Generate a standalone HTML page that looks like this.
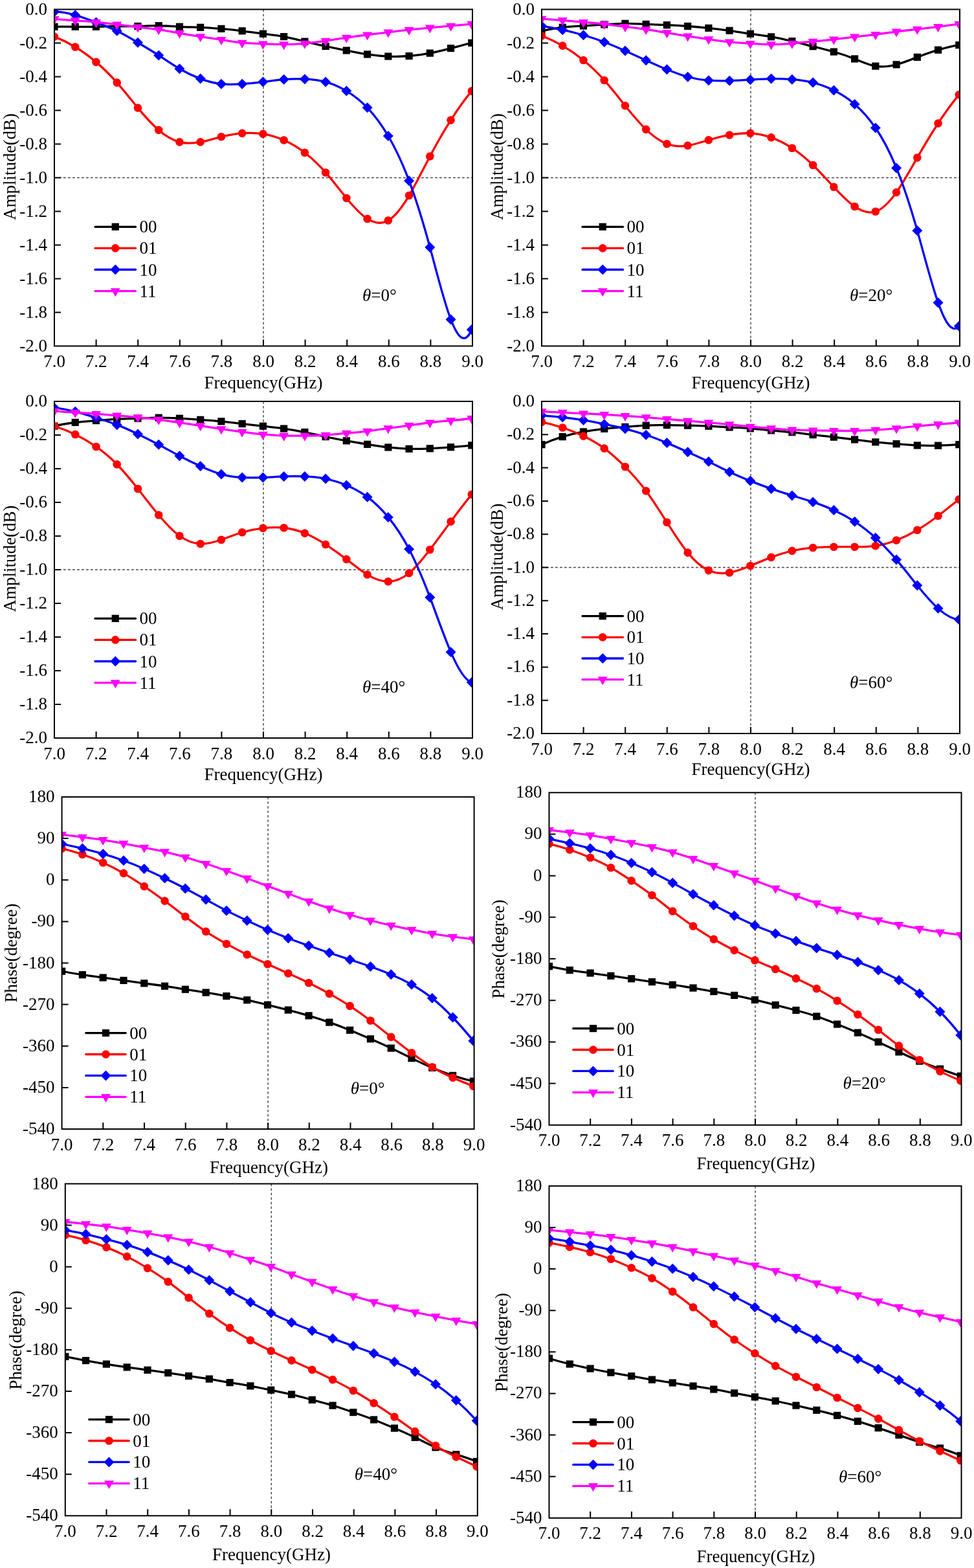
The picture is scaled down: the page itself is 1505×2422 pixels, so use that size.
<!DOCTYPE html><html><head><meta charset="utf-8"><title>Amplitude and phase</title><style>html,body{margin:0;padding:0;background:#fff;}svg{display:block;}</style></head><body><svg width="1505" height="2422" viewBox="0 0 1505 2422">
<rect width="1505" height="2422" fill="#fff"/>
<clipPath id="c0"><rect x="84" y="14.5" width="646" height="520"/></clipPath>
<line x1="407" y1="14.5" x2="407" y2="534.5" stroke="#444" stroke-width="1.4" stroke-dasharray="3.8 3.2" fill="none"/>
<line x1="84" y1="274.5" x2="730" y2="274.5" stroke="#444" stroke-width="1.4" stroke-dasharray="3.8 3.2" fill="none"/>
<g clip-path="url(#c0)">
<path d="M84 41.28C94.75 41.08 105.49 41.18 116.24 41.28C126.99 41.38 137.73 41.48 148.48 41.28C159.23 41.08 169.97 40.6 180.72 40.5C191.47 40.4 202.21 40.7 212.96 40.5C223.71 40.3 234.45 39.6 245.2 39.72C255.95 39.84 266.69 40.76 277.44 41.28C288.19 41.8 298.93 41.9 309.68 42.32C320.43 42.74 331.17 43.49 341.92 44.4C352.67 45.31 363.41 46.4 374.16 47.78C384.91 49.16 395.65 50.83 406.4 52.2C417.15 53.57 427.89 54.63 438.64 56.62C449.39 58.61 460.13 61.51 470.88 64.16C481.63 66.81 492.37 69.19 503.12 71.44C513.87 73.69 524.61 75.79 535.36 77.94C546.11 80.09 556.85 82.3 567.6 83.92C578.35 85.54 589.09 86.59 599.84 87.04C610.59 87.49 621.33 87.35 632.08 86.52C642.83 85.69 653.57 84.19 664.32 82.1C675.07 80.01 685.81 77.35 696.56 74.56C707.31 71.77 718.05 68.85 728.8 66.24" stroke="#000000" stroke-width="3.3" fill="none" stroke-linejoin="round"/>
<rect x="78.4" y="35.68" width="11.2" height="11.2" fill="#000000"/>
<rect x="110.64" y="35.68" width="11.2" height="11.2" fill="#000000"/>
<rect x="142.88" y="35.68" width="11.2" height="11.2" fill="#000000"/>
<rect x="175.12" y="34.9" width="11.2" height="11.2" fill="#000000"/>
<rect x="207.36" y="34.9" width="11.2" height="11.2" fill="#000000"/>
<rect x="239.6" y="34.12" width="11.2" height="11.2" fill="#000000"/>
<rect x="271.84" y="35.68" width="11.2" height="11.2" fill="#000000"/>
<rect x="304.08" y="36.72" width="11.2" height="11.2" fill="#000000"/>
<rect x="336.32" y="38.8" width="11.2" height="11.2" fill="#000000"/>
<rect x="368.56" y="42.18" width="11.2" height="11.2" fill="#000000"/>
<rect x="400.8" y="46.6" width="11.2" height="11.2" fill="#000000"/>
<rect x="433.04" y="51.02" width="11.2" height="11.2" fill="#000000"/>
<rect x="465.28" y="58.56" width="11.2" height="11.2" fill="#000000"/>
<rect x="497.52" y="65.84" width="11.2" height="11.2" fill="#000000"/>
<rect x="529.76" y="72.34" width="11.2" height="11.2" fill="#000000"/>
<rect x="562" y="78.32" width="11.2" height="11.2" fill="#000000"/>
<rect x="594.24" y="81.44" width="11.2" height="11.2" fill="#000000"/>
<rect x="626.48" y="80.92" width="11.2" height="11.2" fill="#000000"/>
<rect x="658.72" y="76.5" width="11.2" height="11.2" fill="#000000"/>
<rect x="690.96" y="68.96" width="11.2" height="11.2" fill="#000000"/>
<rect x="723.2" y="60.64" width="11.2" height="11.2" fill="#000000"/>
<path d="M84 56.62C94.75 60.71 105.49 65.96 116.24 72.48C126.99 79 137.73 86.77 148.48 95.88C159.23 104.99 169.97 115.44 180.72 127.6C191.47 139.76 202.21 153.62 212.96 166.6C223.71 179.58 234.45 191.67 245.2 200.92C255.95 210.17 266.69 216.56 277.44 219.38C288.19 222.2 298.93 221.44 309.68 219.38C320.43 217.32 331.17 213.97 341.92 211.32C352.67 208.67 363.41 206.73 374.16 205.86C384.91 204.99 395.65 205.2 406.4 206.9C417.15 208.6 427.89 211.79 438.64 216.52C449.39 221.25 460.13 227.52 470.88 235.76C481.63 244 492.37 254.22 503.12 266.44C513.87 278.66 524.61 292.87 535.36 305.96C546.11 319.05 556.85 331.03 567.6 337.94C578.35 344.85 589.09 346.71 599.84 340.54C610.59 334.37 621.33 320.19 632.08 302.06C642.83 283.93 653.57 261.85 664.32 241.48C675.07 221.11 685.81 202.43 696.56 185.58C707.31 168.73 718.05 153.69 728.8 140.6" stroke="#ff0000" stroke-width="3.3" fill="none" stroke-linejoin="round"/>
<circle cx="84" cy="56.62" r="6.3" fill="#ff0000"/>
<circle cx="116.24" cy="72.48" r="6.3" fill="#ff0000"/>
<circle cx="148.48" cy="95.88" r="6.3" fill="#ff0000"/>
<circle cx="180.72" cy="127.6" r="6.3" fill="#ff0000"/>
<circle cx="212.96" cy="166.6" r="6.3" fill="#ff0000"/>
<circle cx="245.2" cy="200.92" r="6.3" fill="#ff0000"/>
<circle cx="277.44" cy="219.38" r="6.3" fill="#ff0000"/>
<circle cx="309.68" cy="219.38" r="6.3" fill="#ff0000"/>
<circle cx="341.92" cy="211.32" r="6.3" fill="#ff0000"/>
<circle cx="374.16" cy="205.86" r="6.3" fill="#ff0000"/>
<circle cx="406.4" cy="206.9" r="6.3" fill="#ff0000"/>
<circle cx="438.64" cy="216.52" r="6.3" fill="#ff0000"/>
<circle cx="470.88" cy="235.76" r="6.3" fill="#ff0000"/>
<circle cx="503.12" cy="266.44" r="6.3" fill="#ff0000"/>
<circle cx="535.36" cy="305.96" r="6.3" fill="#ff0000"/>
<circle cx="567.6" cy="337.94" r="6.3" fill="#ff0000"/>
<circle cx="599.84" cy="340.54" r="6.3" fill="#ff0000"/>
<circle cx="632.08" cy="302.06" r="6.3" fill="#ff0000"/>
<circle cx="664.32" cy="241.48" r="6.3" fill="#ff0000"/>
<circle cx="696.56" cy="185.58" r="6.3" fill="#ff0000"/>
<circle cx="728.8" cy="140.6" r="6.3" fill="#ff0000"/>
<path d="M84 18.14C94.75 18.2 105.49 20.27 116.24 23.34C126.99 26.41 137.73 30.48 148.48 34.52C159.23 38.56 169.97 42.59 180.72 47.78C191.47 52.97 202.21 59.34 212.96 65.72C223.71 72.1 234.45 78.51 245.2 85.48C255.95 92.45 266.69 99.98 277.44 106.28C288.19 112.58 298.93 117.65 309.68 121.62C320.43 125.59 331.17 128.47 341.92 129.68C352.67 130.89 363.41 130.43 374.16 129.68C384.91 128.93 395.65 127.91 406.4 126.56C417.15 125.21 427.89 123.55 438.64 122.66C449.39 121.77 460.13 121.67 470.88 122.14C481.63 122.61 492.37 123.67 503.12 126.56C513.87 129.45 524.61 134.17 535.36 140.6C546.11 147.03 556.85 155.16 567.6 166.34C578.35 177.52 589.09 191.74 599.84 210.02C610.59 228.3 621.33 250.63 632.08 279.18C642.83 307.73 653.57 342.48 664.32 381.88C675.07 421.28 685.81 465.32 696.56 493.42C707.31 521.52 718.05 533.67 728.8 509.28" stroke="#0000ff" stroke-width="3.3" fill="none" stroke-linejoin="round"/>
<path d="M84 10.14L92 18.14L84 26.14L76 18.14Z" fill="#0000ff"/>
<path d="M116.24 15.34L124.24 23.34L116.24 31.34L108.24 23.34Z" fill="#0000ff"/>
<path d="M148.48 26.52L156.48 34.52L148.48 42.52L140.48 34.52Z" fill="#0000ff"/>
<path d="M180.72 39.78L188.72 47.78L180.72 55.78L172.72 47.78Z" fill="#0000ff"/>
<path d="M212.96 57.72L220.96 65.72L212.96 73.72L204.96 65.72Z" fill="#0000ff"/>
<path d="M245.2 77.48L253.2 85.48L245.2 93.48L237.2 85.48Z" fill="#0000ff"/>
<path d="M277.44 98.28L285.44 106.28L277.44 114.28L269.44 106.28Z" fill="#0000ff"/>
<path d="M309.68 113.62L317.68 121.62L309.68 129.62L301.68 121.62Z" fill="#0000ff"/>
<path d="M341.92 121.68L349.92 129.68L341.92 137.68L333.92 129.68Z" fill="#0000ff"/>
<path d="M374.16 121.68L382.16 129.68L374.16 137.68L366.16 129.68Z" fill="#0000ff"/>
<path d="M406.4 118.56L414.4 126.56L406.4 134.56L398.4 126.56Z" fill="#0000ff"/>
<path d="M438.64 114.66L446.64 122.66L438.64 130.66L430.64 122.66Z" fill="#0000ff"/>
<path d="M470.88 114.14L478.88 122.14L470.88 130.14L462.88 122.14Z" fill="#0000ff"/>
<path d="M503.12 118.56L511.12 126.56L503.12 134.56L495.12 126.56Z" fill="#0000ff"/>
<path d="M535.36 132.6L543.36 140.6L535.36 148.6L527.36 140.6Z" fill="#0000ff"/>
<path d="M567.6 158.34L575.6 166.34L567.6 174.34L559.6 166.34Z" fill="#0000ff"/>
<path d="M599.84 202.02L607.84 210.02L599.84 218.02L591.84 210.02Z" fill="#0000ff"/>
<path d="M632.08 271.18L640.08 279.18L632.08 287.18L624.08 279.18Z" fill="#0000ff"/>
<path d="M664.32 373.88L672.32 381.88L664.32 389.88L656.32 381.88Z" fill="#0000ff"/>
<path d="M696.56 485.42L704.56 493.42L696.56 501.42L688.56 493.42Z" fill="#0000ff"/>
<path d="M728.8 501.28L736.8 509.28L728.8 517.28L720.8 509.28Z" fill="#0000ff"/>
<path d="M84 29.32C94.75 30.19 105.49 30.9 116.24 31.66C126.99 32.42 137.73 33.22 148.48 34.26C159.23 35.3 169.97 36.58 180.72 37.9C191.47 39.22 202.21 40.57 212.96 41.8C223.71 43.03 234.45 44.15 245.2 45.7C255.95 47.25 266.69 49.23 277.44 51.16C288.19 53.09 298.93 54.98 309.68 56.62C320.43 58.26 331.17 59.65 341.92 61.3C352.67 62.95 363.41 64.86 374.16 65.98C384.91 67.1 395.65 67.42 406.4 67.8C417.15 68.18 427.89 68.63 438.64 68.58C449.39 68.53 460.13 67.98 470.88 67.02C481.63 66.06 492.37 64.69 503.12 63.12C513.87 61.55 524.61 59.79 535.36 58.18C546.11 56.57 556.85 55.11 567.6 53.76C578.35 52.41 589.09 51.18 599.84 49.86C610.59 48.54 621.33 47.15 632.08 45.96C642.83 44.77 653.57 43.8 664.32 42.84C675.07 41.88 685.81 40.93 696.56 39.98C707.31 39.03 718.05 38.08 728.8 37.12" stroke="#ff00ff" stroke-width="3.3" fill="none" stroke-linejoin="round"/>
<path d="M76.5 24.99L91.5 24.99L84 37.99Z" fill="#ff00ff"/>
<path d="M108.74 27.33L123.74 27.33L116.24 40.33Z" fill="#ff00ff"/>
<path d="M140.98 29.93L155.98 29.93L148.48 42.93Z" fill="#ff00ff"/>
<path d="M173.22 33.57L188.22 33.57L180.72 46.57Z" fill="#ff00ff"/>
<path d="M205.46 37.47L220.46 37.47L212.96 50.47Z" fill="#ff00ff"/>
<path d="M237.7 41.37L252.7 41.37L245.2 54.37Z" fill="#ff00ff"/>
<path d="M269.94 46.83L284.94 46.83L277.44 59.83Z" fill="#ff00ff"/>
<path d="M302.18 52.29L317.18 52.29L309.68 65.29Z" fill="#ff00ff"/>
<path d="M334.42 56.97L349.42 56.97L341.92 69.97Z" fill="#ff00ff"/>
<path d="M366.66 61.65L381.66 61.65L374.16 74.65Z" fill="#ff00ff"/>
<path d="M398.9 63.47L413.9 63.47L406.4 76.47Z" fill="#ff00ff"/>
<path d="M431.14 64.25L446.14 64.25L438.64 77.25Z" fill="#ff00ff"/>
<path d="M463.38 62.69L478.38 62.69L470.88 75.69Z" fill="#ff00ff"/>
<path d="M495.62 58.79L510.62 58.79L503.12 71.79Z" fill="#ff00ff"/>
<path d="M527.86 53.85L542.86 53.85L535.36 66.85Z" fill="#ff00ff"/>
<path d="M560.1 49.43L575.1 49.43L567.6 62.43Z" fill="#ff00ff"/>
<path d="M592.34 45.53L607.34 45.53L599.84 58.53Z" fill="#ff00ff"/>
<path d="M624.58 41.63L639.58 41.63L632.08 54.63Z" fill="#ff00ff"/>
<path d="M656.82 38.51L671.82 38.51L664.32 51.51Z" fill="#ff00ff"/>
<path d="M689.06 35.65L704.06 35.65L696.56 48.65Z" fill="#ff00ff"/>
<path d="M721.3 32.79L736.3 32.79L728.8 45.79Z" fill="#ff00ff"/>
</g>
<rect x="84" y="14.5" width="646" height="520" fill="none" stroke="#000" stroke-width="2"/>
<path d="M148.6 534.5v-10M213.2 534.5v-10M277.8 534.5v-10M342.4 534.5v-10M407 534.5v-10M471.6 534.5v-10M536.2 534.5v-10M600.8 534.5v-10M665.4 534.5v-10M84 66.5h10M84 118.5h10M84 170.5h10M84 222.5h10M84 274.5h10M84 326.5h10M84 378.5h10M84 430.5h10M84 482.5h10" stroke="#000" stroke-width="2" fill="none"/>
<line x1="147" y1="350.3" x2="209.5" y2="350.3" stroke="#000000" stroke-width="3.3" stroke-linecap="round"/>
<rect x="172.65" y="344.7" width="11.2" height="11.2" fill="#000000"/>
<line x1="147" y1="383.4" x2="209.5" y2="383.4" stroke="#ff0000" stroke-width="3.3" stroke-linecap="round"/>
<circle cx="178.25" cy="383.4" r="6.3" fill="#ff0000"/>
<line x1="147" y1="416.5" x2="209.5" y2="416.5" stroke="#0000ff" stroke-width="3.3" stroke-linecap="round"/>
<path d="M178.25 408.5L186.25 416.5L178.25 424.5L170.25 416.5Z" fill="#0000ff"/>
<line x1="147" y1="449.6" x2="209.5" y2="449.6" stroke="#ff00ff" stroke-width="3.3" stroke-linecap="round"/>
<path d="M170.75 445.27L185.75 445.27L178.25 458.27Z" fill="#ff00ff"/>
<g font-family="'Liberation Serif','Times New Roman',serif" font-size="27" fill="#000"><text x="73" y="22.5" text-anchor="end">0.0</text><text x="73" y="74.5" text-anchor="end">-0.2</text><text x="73" y="126.5" text-anchor="end">-0.4</text><text x="73" y="178.5" text-anchor="end">-0.6</text><text x="73" y="230.5" text-anchor="end">-0.8</text><text x="73" y="282.5" text-anchor="end">-1.0</text><text x="73" y="334.5" text-anchor="end">-1.2</text><text x="73" y="386.5" text-anchor="end">-1.4</text><text x="73" y="438.5" text-anchor="end">-1.6</text><text x="73" y="490.5" text-anchor="end">-1.8</text><text x="73" y="542.5" text-anchor="end">-2.0</text><text x="84" y="567" text-anchor="middle">7.0</text><text x="148.6" y="567" text-anchor="middle">7.2</text><text x="213.2" y="567" text-anchor="middle">7.4</text><text x="277.8" y="567" text-anchor="middle">7.6</text><text x="342.4" y="567" text-anchor="middle">7.8</text><text x="407" y="567" text-anchor="middle">8.0</text><text x="471.6" y="567" text-anchor="middle">8.2</text><text x="536.2" y="567" text-anchor="middle">8.4</text><text x="600.8" y="567" text-anchor="middle">8.6</text><text x="665.4" y="567" text-anchor="middle">8.8</text><text x="730" y="567" text-anchor="middle">9.0</text><text x="407" y="599.6" text-anchor="middle">Frequency(GHz)</text><text transform="translate(24,257.6) rotate(-90)" text-anchor="middle">Amplitude(dB)</text><text x="215.5" y="359.3">00</text><text x="215.5" y="392.4">01</text><text x="215.5" y="425.5">10</text><text x="215.5" y="458.6">11</text><text x="560" y="465"><tspan font-style="italic">θ</tspan>=0°</text></g>
<clipPath id="c1"><rect x="837" y="14.5" width="646" height="520"/></clipPath>
<line x1="1160" y1="14.5" x2="1160" y2="534.5" stroke="#444" stroke-width="1.4" stroke-dasharray="3.8 3.2" fill="none"/>
<line x1="837" y1="274.5" x2="1483" y2="274.5" stroke="#444" stroke-width="1.4" stroke-dasharray="3.8 3.2" fill="none"/>
<g clip-path="url(#c1)">
<path d="M837 48.3C847.75 45.24 858.49 43.48 869.24 42.32C879.99 41.16 890.73 40.61 901.48 39.98C912.23 39.35 922.97 38.64 933.72 37.9C944.47 37.16 955.21 36.41 965.96 36.34C976.71 36.27 987.45 36.89 998.2 37.38C1008.95 37.87 1019.69 38.22 1030.44 38.68C1041.19 39.14 1051.93 39.72 1062.68 40.5C1073.43 41.28 1084.17 42.25 1094.92 43.36C1105.67 44.47 1116.41 45.72 1127.16 47.26C1137.91 48.8 1148.65 50.64 1159.4 52.2C1170.15 53.76 1180.89 55.06 1191.64 56.88C1202.39 58.7 1213.13 61.06 1223.88 63.64C1234.63 66.22 1245.37 69.02 1256.12 71.7C1266.87 74.38 1277.61 76.95 1288.36 80.02C1299.11 83.09 1309.85 86.65 1320.6 90.94C1331.35 95.23 1342.09 100.26 1352.84 102.12C1363.59 103.98 1374.33 102.66 1385.08 99.78C1395.83 96.9 1406.57 92.47 1417.32 88.34C1428.07 84.21 1438.81 80.38 1449.56 77.16C1460.31 73.94 1471.05 71.32 1481.8 69.62" stroke="#000000" stroke-width="3.3" fill="none" stroke-linejoin="round"/>
<rect x="831.4" y="42.7" width="11.2" height="11.2" fill="#000000"/>
<rect x="863.64" y="36.72" width="11.2" height="11.2" fill="#000000"/>
<rect x="895.88" y="34.38" width="11.2" height="11.2" fill="#000000"/>
<rect x="928.12" y="32.3" width="11.2" height="11.2" fill="#000000"/>
<rect x="960.36" y="30.74" width="11.2" height="11.2" fill="#000000"/>
<rect x="992.6" y="31.78" width="11.2" height="11.2" fill="#000000"/>
<rect x="1024.84" y="33.08" width="11.2" height="11.2" fill="#000000"/>
<rect x="1057.08" y="34.9" width="11.2" height="11.2" fill="#000000"/>
<rect x="1089.32" y="37.76" width="11.2" height="11.2" fill="#000000"/>
<rect x="1121.56" y="41.66" width="11.2" height="11.2" fill="#000000"/>
<rect x="1153.8" y="46.6" width="11.2" height="11.2" fill="#000000"/>
<rect x="1186.04" y="51.28" width="11.2" height="11.2" fill="#000000"/>
<rect x="1218.28" y="58.04" width="11.2" height="11.2" fill="#000000"/>
<rect x="1250.52" y="66.1" width="11.2" height="11.2" fill="#000000"/>
<rect x="1282.76" y="74.42" width="11.2" height="11.2" fill="#000000"/>
<rect x="1315" y="85.34" width="11.2" height="11.2" fill="#000000"/>
<rect x="1347.24" y="96.52" width="11.2" height="11.2" fill="#000000"/>
<rect x="1379.48" y="94.18" width="11.2" height="11.2" fill="#000000"/>
<rect x="1411.72" y="82.74" width="11.2" height="11.2" fill="#000000"/>
<rect x="1443.96" y="71.56" width="11.2" height="11.2" fill="#000000"/>
<rect x="1476.2" y="64.02" width="11.2" height="11.2" fill="#000000"/>
<path d="M837 55.32C847.75 59.41 858.49 64.45 869.24 70.66C879.99 76.87 890.73 84.25 901.48 93.02C912.23 101.79 922.97 111.95 933.72 123.96C944.47 135.97 955.21 149.84 965.96 163.22C976.71 176.6 987.45 189.49 998.2 199.88C1008.95 210.27 1019.69 218.17 1030.44 222.24C1041.19 226.31 1051.93 226.56 1062.68 224.84C1073.43 223.12 1084.17 219.44 1094.92 216.26C1105.67 213.08 1116.41 210.39 1127.16 208.46C1137.91 206.53 1148.65 205.36 1159.4 205.86C1170.15 206.36 1180.89 208.55 1191.64 212.36C1202.39 216.17 1213.13 221.62 1223.88 228.74C1234.63 235.86 1245.37 244.65 1256.12 255C1266.87 265.35 1277.61 277.27 1288.36 288.8C1299.11 300.33 1309.85 311.47 1320.6 318.96C1331.35 326.45 1342.09 330.28 1352.84 326.76C1363.59 323.24 1374.33 312.35 1385.08 297.12C1395.83 281.89 1406.57 262.3 1417.32 243.56C1428.07 224.82 1438.81 206.93 1449.56 190.52C1460.31 174.11 1471.05 159.16 1481.8 146.32" stroke="#ff0000" stroke-width="3.3" fill="none" stroke-linejoin="round"/>
<circle cx="837" cy="55.32" r="6.3" fill="#ff0000"/>
<circle cx="869.24" cy="70.66" r="6.3" fill="#ff0000"/>
<circle cx="901.48" cy="93.02" r="6.3" fill="#ff0000"/>
<circle cx="933.72" cy="123.96" r="6.3" fill="#ff0000"/>
<circle cx="965.96" cy="163.22" r="6.3" fill="#ff0000"/>
<circle cx="998.2" cy="199.88" r="6.3" fill="#ff0000"/>
<circle cx="1030.44" cy="222.24" r="6.3" fill="#ff0000"/>
<circle cx="1062.68" cy="224.84" r="6.3" fill="#ff0000"/>
<circle cx="1094.92" cy="216.26" r="6.3" fill="#ff0000"/>
<circle cx="1127.16" cy="208.46" r="6.3" fill="#ff0000"/>
<circle cx="1159.4" cy="205.86" r="6.3" fill="#ff0000"/>
<circle cx="1191.64" cy="212.36" r="6.3" fill="#ff0000"/>
<circle cx="1223.88" cy="228.74" r="6.3" fill="#ff0000"/>
<circle cx="1256.12" cy="255" r="6.3" fill="#ff0000"/>
<circle cx="1288.36" cy="288.8" r="6.3" fill="#ff0000"/>
<circle cx="1320.6" cy="318.96" r="6.3" fill="#ff0000"/>
<circle cx="1352.84" cy="326.76" r="6.3" fill="#ff0000"/>
<circle cx="1385.08" cy="297.12" r="6.3" fill="#ff0000"/>
<circle cx="1417.32" cy="243.56" r="6.3" fill="#ff0000"/>
<circle cx="1449.56" cy="190.52" r="6.3" fill="#ff0000"/>
<circle cx="1481.8" cy="146.32" r="6.3" fill="#ff0000"/>
<path d="M837 39.98C847.75 41.85 858.49 43.88 869.24 46.22C879.99 48.56 890.73 51.2 901.48 54.28C912.23 57.36 922.97 60.88 933.72 64.94C944.47 69 955.21 73.62 965.96 78.46C976.71 83.3 987.45 88.38 998.2 93.28C1008.95 98.18 1019.69 102.9 1030.44 107.32C1041.19 111.74 1051.93 115.85 1062.68 118.76C1073.43 121.67 1084.17 123.38 1094.92 124.22C1105.67 125.06 1116.41 125.05 1127.16 124.74C1137.91 124.43 1148.65 123.84 1159.4 123.18C1170.15 122.52 1180.89 121.8 1191.64 121.62C1202.39 121.44 1213.13 121.79 1223.88 122.66C1234.63 123.53 1245.37 124.93 1256.12 127.6C1266.87 130.27 1277.61 134.21 1288.36 139.56C1299.11 144.91 1309.85 151.66 1320.6 160.88C1331.35 170.1 1342.09 181.77 1352.84 197.54C1363.59 213.31 1374.33 233.17 1385.08 259.42C1395.83 285.67 1406.57 318.33 1417.32 356.14C1428.07 393.95 1438.81 436.93 1449.56 467.42C1460.31 497.91 1471.05 515.93 1481.8 503.82" stroke="#0000ff" stroke-width="3.3" fill="none" stroke-linejoin="round"/>
<path d="M837 31.98L845 39.98L837 47.98L829 39.98Z" fill="#0000ff"/>
<path d="M869.24 38.22L877.24 46.22L869.24 54.22L861.24 46.22Z" fill="#0000ff"/>
<path d="M901.48 46.28L909.48 54.28L901.48 62.28L893.48 54.28Z" fill="#0000ff"/>
<path d="M933.72 56.94L941.72 64.94L933.72 72.94L925.72 64.94Z" fill="#0000ff"/>
<path d="M965.96 70.46L973.96 78.46L965.96 86.46L957.96 78.46Z" fill="#0000ff"/>
<path d="M998.2 85.28L1006.2 93.28L998.2 101.28L990.2 93.28Z" fill="#0000ff"/>
<path d="M1030.44 99.32L1038.44 107.32L1030.44 115.32L1022.44 107.32Z" fill="#0000ff"/>
<path d="M1062.68 110.76L1070.68 118.76L1062.68 126.76L1054.68 118.76Z" fill="#0000ff"/>
<path d="M1094.92 116.22L1102.92 124.22L1094.92 132.22L1086.92 124.22Z" fill="#0000ff"/>
<path d="M1127.16 116.74L1135.16 124.74L1127.16 132.74L1119.16 124.74Z" fill="#0000ff"/>
<path d="M1159.4 115.18L1167.4 123.18L1159.4 131.18L1151.4 123.18Z" fill="#0000ff"/>
<path d="M1191.64 113.62L1199.64 121.62L1191.64 129.62L1183.64 121.62Z" fill="#0000ff"/>
<path d="M1223.88 114.66L1231.88 122.66L1223.88 130.66L1215.88 122.66Z" fill="#0000ff"/>
<path d="M1256.12 119.6L1264.12 127.6L1256.12 135.6L1248.12 127.6Z" fill="#0000ff"/>
<path d="M1288.36 131.56L1296.36 139.56L1288.36 147.56L1280.36 139.56Z" fill="#0000ff"/>
<path d="M1320.6 152.88L1328.6 160.88L1320.6 168.88L1312.6 160.88Z" fill="#0000ff"/>
<path d="M1352.84 189.54L1360.84 197.54L1352.84 205.54L1344.84 197.54Z" fill="#0000ff"/>
<path d="M1385.08 251.42L1393.08 259.42L1385.08 267.42L1377.08 259.42Z" fill="#0000ff"/>
<path d="M1417.32 348.14L1425.32 356.14L1417.32 364.14L1409.32 356.14Z" fill="#0000ff"/>
<path d="M1449.56 459.42L1457.56 467.42L1449.56 475.42L1441.56 467.42Z" fill="#0000ff"/>
<path d="M1481.8 495.82L1489.8 503.82L1481.8 511.82L1473.8 503.82Z" fill="#0000ff"/>
<path d="M837 29.06C847.75 29.69 858.49 30.5 869.24 31.4C879.99 32.3 890.73 33.28 901.48 34.26C912.23 35.24 922.97 36.2 933.72 37.38C944.47 38.56 955.21 39.95 965.96 41.28C976.71 42.61 987.45 43.88 998.2 45.44C1008.95 47 1019.69 48.83 1030.44 50.64C1041.19 52.45 1051.93 54.22 1062.68 55.84C1073.43 57.46 1084.17 58.93 1094.92 60.52C1105.67 62.11 1116.41 63.8 1127.16 64.94C1137.91 66.08 1148.65 66.65 1159.4 67.28C1170.15 67.91 1180.89 68.59 1191.64 68.58C1202.39 68.57 1213.13 67.86 1223.88 67.02C1234.63 66.18 1245.37 65.2 1256.12 64.16C1266.87 63.12 1277.61 62.03 1288.36 60.78C1299.11 59.53 1309.85 58.11 1320.6 56.88C1331.35 55.65 1342.09 54.6 1352.84 53.24C1363.59 51.88 1374.33 50.19 1385.08 48.82C1395.83 47.45 1406.57 46.38 1417.32 45.18C1428.07 43.98 1438.81 42.65 1449.56 41.28C1460.31 39.91 1471.05 38.49 1481.8 37.12" stroke="#ff00ff" stroke-width="3.3" fill="none" stroke-linejoin="round"/>
<path d="M829.5 24.73L844.5 24.73L837 37.73Z" fill="#ff00ff"/>
<path d="M861.74 27.07L876.74 27.07L869.24 40.07Z" fill="#ff00ff"/>
<path d="M893.98 29.93L908.98 29.93L901.48 42.93Z" fill="#ff00ff"/>
<path d="M926.22 33.05L941.22 33.05L933.72 46.05Z" fill="#ff00ff"/>
<path d="M958.46 36.95L973.46 36.95L965.96 49.95Z" fill="#ff00ff"/>
<path d="M990.7 41.11L1005.7 41.11L998.2 54.11Z" fill="#ff00ff"/>
<path d="M1022.94 46.31L1037.94 46.31L1030.44 59.31Z" fill="#ff00ff"/>
<path d="M1055.18 51.51L1070.18 51.51L1062.68 64.51Z" fill="#ff00ff"/>
<path d="M1087.42 56.19L1102.42 56.19L1094.92 69.19Z" fill="#ff00ff"/>
<path d="M1119.66 60.61L1134.66 60.61L1127.16 73.61Z" fill="#ff00ff"/>
<path d="M1151.9 62.95L1166.9 62.95L1159.4 75.95Z" fill="#ff00ff"/>
<path d="M1184.14 64.25L1199.14 64.25L1191.64 77.25Z" fill="#ff00ff"/>
<path d="M1216.38 62.69L1231.38 62.69L1223.88 75.69Z" fill="#ff00ff"/>
<path d="M1248.62 59.83L1263.62 59.83L1256.12 72.83Z" fill="#ff00ff"/>
<path d="M1280.86 56.45L1295.86 56.45L1288.36 69.45Z" fill="#ff00ff"/>
<path d="M1313.1 52.55L1328.1 52.55L1320.6 65.55Z" fill="#ff00ff"/>
<path d="M1345.34 48.91L1360.34 48.91L1352.84 61.91Z" fill="#ff00ff"/>
<path d="M1377.58 44.49L1392.58 44.49L1385.08 57.49Z" fill="#ff00ff"/>
<path d="M1409.82 40.85L1424.82 40.85L1417.32 53.85Z" fill="#ff00ff"/>
<path d="M1442.06 36.95L1457.06 36.95L1449.56 49.95Z" fill="#ff00ff"/>
<path d="M1474.3 32.79L1489.3 32.79L1481.8 45.79Z" fill="#ff00ff"/>
</g>
<rect x="837" y="14.5" width="646" height="520" fill="none" stroke="#000" stroke-width="2"/>
<path d="M901.6 534.5v-10M966.2 534.5v-10M1030.8 534.5v-10M1095.4 534.5v-10M1160 534.5v-10M1224.6 534.5v-10M1289.2 534.5v-10M1353.8 534.5v-10M1418.4 534.5v-10M837 66.5h10M837 118.5h10M837 170.5h10M837 222.5h10M837 274.5h10M837 326.5h10M837 378.5h10M837 430.5h10M837 482.5h10" stroke="#000" stroke-width="2" fill="none"/>
<line x1="900" y1="350.3" x2="962.5" y2="350.3" stroke="#000000" stroke-width="3.3" stroke-linecap="round"/>
<rect x="925.65" y="344.7" width="11.2" height="11.2" fill="#000000"/>
<line x1="900" y1="383.4" x2="962.5" y2="383.4" stroke="#ff0000" stroke-width="3.3" stroke-linecap="round"/>
<circle cx="931.25" cy="383.4" r="6.3" fill="#ff0000"/>
<line x1="900" y1="416.5" x2="962.5" y2="416.5" stroke="#0000ff" stroke-width="3.3" stroke-linecap="round"/>
<path d="M931.25 408.5L939.25 416.5L931.25 424.5L923.25 416.5Z" fill="#0000ff"/>
<line x1="900" y1="449.6" x2="962.5" y2="449.6" stroke="#ff00ff" stroke-width="3.3" stroke-linecap="round"/>
<path d="M923.75 445.27L938.75 445.27L931.25 458.27Z" fill="#ff00ff"/>
<g font-family="'Liberation Serif','Times New Roman',serif" font-size="27" fill="#000"><text x="826" y="22.5" text-anchor="end">0.0</text><text x="826" y="74.5" text-anchor="end">-0.2</text><text x="826" y="126.5" text-anchor="end">-0.4</text><text x="826" y="178.5" text-anchor="end">-0.6</text><text x="826" y="230.5" text-anchor="end">-0.8</text><text x="826" y="282.5" text-anchor="end">-1.0</text><text x="826" y="334.5" text-anchor="end">-1.2</text><text x="826" y="386.5" text-anchor="end">-1.4</text><text x="826" y="438.5" text-anchor="end">-1.6</text><text x="826" y="490.5" text-anchor="end">-1.8</text><text x="826" y="542.5" text-anchor="end">-2.0</text><text x="837" y="567" text-anchor="middle">7.0</text><text x="901.6" y="567" text-anchor="middle">7.2</text><text x="966.2" y="567" text-anchor="middle">7.4</text><text x="1030.8" y="567" text-anchor="middle">7.6</text><text x="1095.4" y="567" text-anchor="middle">7.8</text><text x="1160" y="567" text-anchor="middle">8.0</text><text x="1224.6" y="567" text-anchor="middle">8.2</text><text x="1289.2" y="567" text-anchor="middle">8.4</text><text x="1353.8" y="567" text-anchor="middle">8.6</text><text x="1418.4" y="567" text-anchor="middle">8.8</text><text x="1483" y="567" text-anchor="middle">9.0</text><text x="1160" y="599.6" text-anchor="middle">Frequency(GHz)</text><text transform="translate(777,257.6) rotate(-90)" text-anchor="middle">Amplitude(dB)</text><text x="968.5" y="359.3">00</text><text x="968.5" y="392.4">01</text><text x="968.5" y="425.5">10</text><text x="968.5" y="458.6">11</text><text x="1313" y="465"><tspan font-style="italic">θ</tspan>=20°</text></g>
<clipPath id="c2"><rect x="84" y="620" width="646" height="520"/></clipPath>
<line x1="407" y1="620" x2="407" y2="1140" stroke="#444" stroke-width="1.4" stroke-dasharray="3.8 3.2" fill="none"/>
<line x1="84" y1="880" x2="730" y2="880" stroke="#444" stroke-width="1.4" stroke-dasharray="3.8 3.2" fill="none"/>
<g clip-path="url(#c2)">
<path d="M84 658.22C94.75 655.46 105.49 653.74 116.24 652.5C126.99 651.26 137.73 650.5 148.48 649.64C159.23 648.78 169.97 647.84 180.72 647.3C191.47 646.76 202.21 646.63 212.96 646.26C223.71 645.89 234.45 645.28 245.2 645.22C255.95 645.16 266.69 645.65 277.44 646.26C288.19 646.87 298.93 647.59 309.68 648.34C320.43 649.09 331.17 649.88 341.92 650.94C352.67 652 363.41 653.32 374.16 654.58C384.91 655.84 395.65 657.02 406.4 658.22C417.15 659.42 427.89 660.62 438.64 662.12C449.39 663.62 460.13 665.41 470.88 667.58C481.63 669.75 492.37 672.31 503.12 674.6C513.87 676.89 524.61 678.92 535.36 680.84C546.11 682.76 556.85 684.56 567.6 686.3C578.35 688.04 589.09 689.73 599.84 690.98C610.59 692.23 621.33 693.05 632.08 693.32C642.83 693.59 653.57 693.3 664.32 692.8C675.07 692.3 685.81 691.57 696.56 690.72C707.31 689.87 718.05 688.88 728.8 687.86" stroke="#000000" stroke-width="3.3" fill="none" stroke-linejoin="round"/>
<rect x="78.4" y="652.62" width="11.2" height="11.2" fill="#000000"/>
<rect x="110.64" y="646.9" width="11.2" height="11.2" fill="#000000"/>
<rect x="142.88" y="644.04" width="11.2" height="11.2" fill="#000000"/>
<rect x="175.12" y="641.7" width="11.2" height="11.2" fill="#000000"/>
<rect x="207.36" y="640.66" width="11.2" height="11.2" fill="#000000"/>
<rect x="239.6" y="639.62" width="11.2" height="11.2" fill="#000000"/>
<rect x="271.84" y="640.66" width="11.2" height="11.2" fill="#000000"/>
<rect x="304.08" y="642.74" width="11.2" height="11.2" fill="#000000"/>
<rect x="336.32" y="645.34" width="11.2" height="11.2" fill="#000000"/>
<rect x="368.56" y="648.98" width="11.2" height="11.2" fill="#000000"/>
<rect x="400.8" y="652.62" width="11.2" height="11.2" fill="#000000"/>
<rect x="433.04" y="656.52" width="11.2" height="11.2" fill="#000000"/>
<rect x="465.28" y="661.98" width="11.2" height="11.2" fill="#000000"/>
<rect x="497.52" y="669" width="11.2" height="11.2" fill="#000000"/>
<rect x="529.76" y="675.24" width="11.2" height="11.2" fill="#000000"/>
<rect x="562" y="680.7" width="11.2" height="11.2" fill="#000000"/>
<rect x="594.24" y="685.38" width="11.2" height="11.2" fill="#000000"/>
<rect x="626.48" y="687.72" width="11.2" height="11.2" fill="#000000"/>
<rect x="658.72" y="687.2" width="11.2" height="11.2" fill="#000000"/>
<rect x="690.96" y="685.12" width="11.2" height="11.2" fill="#000000"/>
<rect x="723.2" y="682.26" width="11.2" height="11.2" fill="#000000"/>
<path d="M84 658.22C94.75 661.59 105.49 665.75 116.24 670.96C126.99 676.17 137.73 682.41 148.48 689.94C159.23 697.47 169.97 706.27 180.72 717.24C191.47 728.21 202.21 741.33 212.96 754.94C223.71 768.55 234.45 782.65 245.2 795.5C255.95 808.35 266.69 819.96 277.44 827.74C288.19 835.52 298.93 839.48 309.68 839.96C320.43 840.44 331.17 837.45 341.92 833.72C352.67 829.99 363.41 825.52 374.16 822.28C384.91 819.04 395.65 817.01 406.4 815.78C417.15 814.55 427.89 814.11 438.64 815.26C449.39 816.41 460.13 819.16 470.88 823.58C481.63 828 492.37 834.1 503.12 841C513.87 847.9 524.61 855.6 535.36 863.88C546.11 872.16 556.85 881.02 567.6 887.54C578.35 894.06 589.09 898.22 599.84 898.2C610.59 898.18 621.33 893.96 632.08 885.2C642.83 876.44 653.57 863.12 664.32 849.06C675.07 835 685.81 820.19 696.56 805.64C707.31 791.09 718.05 776.8 728.8 763.78" stroke="#ff0000" stroke-width="3.3" fill="none" stroke-linejoin="round"/>
<circle cx="84" cy="658.22" r="6.3" fill="#ff0000"/>
<circle cx="116.24" cy="670.96" r="6.3" fill="#ff0000"/>
<circle cx="148.48" cy="689.94" r="6.3" fill="#ff0000"/>
<circle cx="180.72" cy="717.24" r="6.3" fill="#ff0000"/>
<circle cx="212.96" cy="754.94" r="6.3" fill="#ff0000"/>
<circle cx="245.2" cy="795.5" r="6.3" fill="#ff0000"/>
<circle cx="277.44" cy="827.74" r="6.3" fill="#ff0000"/>
<circle cx="309.68" cy="839.96" r="6.3" fill="#ff0000"/>
<circle cx="341.92" cy="833.72" r="6.3" fill="#ff0000"/>
<circle cx="374.16" cy="822.28" r="6.3" fill="#ff0000"/>
<circle cx="406.4" cy="815.78" r="6.3" fill="#ff0000"/>
<circle cx="438.64" cy="815.26" r="6.3" fill="#ff0000"/>
<circle cx="470.88" cy="823.58" r="6.3" fill="#ff0000"/>
<circle cx="503.12" cy="841" r="6.3" fill="#ff0000"/>
<circle cx="535.36" cy="863.88" r="6.3" fill="#ff0000"/>
<circle cx="567.6" cy="887.54" r="6.3" fill="#ff0000"/>
<circle cx="599.84" cy="898.2" r="6.3" fill="#ff0000"/>
<circle cx="632.08" cy="885.2" r="6.3" fill="#ff0000"/>
<circle cx="664.32" cy="849.06" r="6.3" fill="#ff0000"/>
<circle cx="696.56" cy="805.64" r="6.3" fill="#ff0000"/>
<circle cx="728.8" cy="763.78" r="6.3" fill="#ff0000"/>
<path d="M84 629.88C94.75 630.97 105.49 633.13 116.24 635.86C126.99 638.59 137.73 641.87 148.48 645.22C159.23 648.57 169.97 651.97 180.72 656.14C191.47 660.31 202.21 665.25 212.96 670.44C223.71 675.63 234.45 681.08 245.2 686.82C255.95 692.56 266.69 698.59 277.44 704.24C288.19 709.89 298.93 715.17 309.68 720.1C320.43 725.03 331.17 729.61 341.92 732.58C352.67 735.55 363.41 736.92 374.16 737.52C384.91 738.12 395.65 737.96 406.4 737.52C417.15 737.08 427.89 736.36 438.64 735.96C449.39 735.56 460.13 735.48 470.88 735.96C481.63 736.44 492.37 737.46 503.12 739.6C513.87 741.74 524.61 744.99 535.36 749.48C546.11 753.97 556.85 759.7 567.6 767.68C578.35 775.66 589.09 785.88 599.84 798.88C610.59 811.88 621.33 827.67 632.08 848.28C642.83 868.89 653.57 894.31 664.32 922.64C675.07 950.97 685.81 982.2 696.56 1007.14C707.31 1032.08 718.05 1050.75 728.8 1053.94" stroke="#0000ff" stroke-width="3.3" fill="none" stroke-linejoin="round"/>
<path d="M84 621.88L92 629.88L84 637.88L76 629.88Z" fill="#0000ff"/>
<path d="M116.24 627.86L124.24 635.86L116.24 643.86L108.24 635.86Z" fill="#0000ff"/>
<path d="M148.48 637.22L156.48 645.22L148.48 653.22L140.48 645.22Z" fill="#0000ff"/>
<path d="M180.72 648.14L188.72 656.14L180.72 664.14L172.72 656.14Z" fill="#0000ff"/>
<path d="M212.96 662.44L220.96 670.44L212.96 678.44L204.96 670.44Z" fill="#0000ff"/>
<path d="M245.2 678.82L253.2 686.82L245.2 694.82L237.2 686.82Z" fill="#0000ff"/>
<path d="M277.44 696.24L285.44 704.24L277.44 712.24L269.44 704.24Z" fill="#0000ff"/>
<path d="M309.68 712.1L317.68 720.1L309.68 728.1L301.68 720.1Z" fill="#0000ff"/>
<path d="M341.92 724.58L349.92 732.58L341.92 740.58L333.92 732.58Z" fill="#0000ff"/>
<path d="M374.16 729.52L382.16 737.52L374.16 745.52L366.16 737.52Z" fill="#0000ff"/>
<path d="M406.4 729.52L414.4 737.52L406.4 745.52L398.4 737.52Z" fill="#0000ff"/>
<path d="M438.64 727.96L446.64 735.96L438.64 743.96L430.64 735.96Z" fill="#0000ff"/>
<path d="M470.88 727.96L478.88 735.96L470.88 743.96L462.88 735.96Z" fill="#0000ff"/>
<path d="M503.12 731.6L511.12 739.6L503.12 747.6L495.12 739.6Z" fill="#0000ff"/>
<path d="M535.36 741.48L543.36 749.48L535.36 757.48L527.36 749.48Z" fill="#0000ff"/>
<path d="M567.6 759.68L575.6 767.68L567.6 775.68L559.6 767.68Z" fill="#0000ff"/>
<path d="M599.84 790.88L607.84 798.88L599.84 806.88L591.84 798.88Z" fill="#0000ff"/>
<path d="M632.08 840.28L640.08 848.28L632.08 856.28L624.08 848.28Z" fill="#0000ff"/>
<path d="M664.32 914.64L672.32 922.64L664.32 930.64L656.32 922.64Z" fill="#0000ff"/>
<path d="M696.56 999.14L704.56 1007.14L696.56 1015.14L688.56 1007.14Z" fill="#0000ff"/>
<path d="M728.8 1045.94L736.8 1053.94L728.8 1061.94L720.8 1053.94Z" fill="#0000ff"/>
<path d="M84 634.82C94.75 635.76 105.49 636.48 116.24 637.16C126.99 637.84 137.73 638.47 148.48 639.24C159.23 640.01 169.97 640.91 180.72 641.84C191.47 642.77 202.21 643.71 212.96 644.7C223.71 645.69 234.45 646.72 245.2 648.08C255.95 649.44 266.69 651.11 277.44 652.76C288.19 654.41 298.93 656.03 309.68 657.7C320.43 659.37 331.17 661.07 341.92 662.64C352.67 664.21 363.41 665.64 374.16 667.06C384.91 668.48 395.65 669.89 406.4 670.96C417.15 672.03 427.89 672.75 438.64 673.04C449.39 673.33 460.13 673.2 470.88 673.04C481.63 672.88 492.37 672.68 503.12 672C513.87 671.32 524.61 670.15 535.36 669.14C546.11 668.13 556.85 667.27 567.6 666.02C578.35 664.77 589.09 663.12 599.84 661.6C610.59 660.08 621.33 658.69 632.08 657.18C642.83 655.67 653.57 654.03 664.32 652.76C675.07 651.49 685.81 650.59 696.56 649.64C707.31 648.69 718.05 647.7 728.8 646.26" stroke="#ff00ff" stroke-width="3.3" fill="none" stroke-linejoin="round"/>
<path d="M76.5 630.49L91.5 630.49L84 643.49Z" fill="#ff00ff"/>
<path d="M108.74 632.83L123.74 632.83L116.24 645.83Z" fill="#ff00ff"/>
<path d="M140.98 634.91L155.98 634.91L148.48 647.91Z" fill="#ff00ff"/>
<path d="M173.22 637.51L188.22 637.51L180.72 650.51Z" fill="#ff00ff"/>
<path d="M205.46 640.37L220.46 640.37L212.96 653.37Z" fill="#ff00ff"/>
<path d="M237.7 643.75L252.7 643.75L245.2 656.75Z" fill="#ff00ff"/>
<path d="M269.94 648.43L284.94 648.43L277.44 661.43Z" fill="#ff00ff"/>
<path d="M302.18 653.37L317.18 653.37L309.68 666.37Z" fill="#ff00ff"/>
<path d="M334.42 658.31L349.42 658.31L341.92 671.31Z" fill="#ff00ff"/>
<path d="M366.66 662.73L381.66 662.73L374.16 675.73Z" fill="#ff00ff"/>
<path d="M398.9 666.63L413.9 666.63L406.4 679.63Z" fill="#ff00ff"/>
<path d="M431.14 668.71L446.14 668.71L438.64 681.71Z" fill="#ff00ff"/>
<path d="M463.38 668.71L478.38 668.71L470.88 681.71Z" fill="#ff00ff"/>
<path d="M495.62 667.67L510.62 667.67L503.12 680.67Z" fill="#ff00ff"/>
<path d="M527.86 664.81L542.86 664.81L535.36 677.81Z" fill="#ff00ff"/>
<path d="M560.1 661.69L575.1 661.69L567.6 674.69Z" fill="#ff00ff"/>
<path d="M592.34 657.27L607.34 657.27L599.84 670.27Z" fill="#ff00ff"/>
<path d="M624.58 652.85L639.58 652.85L632.08 665.85Z" fill="#ff00ff"/>
<path d="M656.82 648.43L671.82 648.43L664.32 661.43Z" fill="#ff00ff"/>
<path d="M689.06 645.31L704.06 645.31L696.56 658.31Z" fill="#ff00ff"/>
<path d="M721.3 641.93L736.3 641.93L728.8 654.93Z" fill="#ff00ff"/>
</g>
<rect x="84" y="620" width="646" height="520" fill="none" stroke="#000" stroke-width="2"/>
<path d="M148.6 1140v-10M213.2 1140v-10M277.8 1140v-10M342.4 1140v-10M407 1140v-10M471.6 1140v-10M536.2 1140v-10M600.8 1140v-10M665.4 1140v-10M84 672h10M84 724h10M84 776h10M84 828h10M84 880h10M84 932h10M84 984h10M84 1036h10M84 1088h10" stroke="#000" stroke-width="2" fill="none"/>
<line x1="147" y1="955.3" x2="209.5" y2="955.3" stroke="#000000" stroke-width="3.3" stroke-linecap="round"/>
<rect x="172.65" y="949.7" width="11.2" height="11.2" fill="#000000"/>
<line x1="147" y1="988.4" x2="209.5" y2="988.4" stroke="#ff0000" stroke-width="3.3" stroke-linecap="round"/>
<circle cx="178.25" cy="988.4" r="6.3" fill="#ff0000"/>
<line x1="147" y1="1021.5" x2="209.5" y2="1021.5" stroke="#0000ff" stroke-width="3.3" stroke-linecap="round"/>
<path d="M178.25 1013.5L186.25 1021.5L178.25 1029.5L170.25 1021.5Z" fill="#0000ff"/>
<line x1="147" y1="1054.6" x2="209.5" y2="1054.6" stroke="#ff00ff" stroke-width="3.3" stroke-linecap="round"/>
<path d="M170.75 1050.27L185.75 1050.27L178.25 1063.27Z" fill="#ff00ff"/>
<g font-family="'Liberation Serif','Times New Roman',serif" font-size="27" fill="#000"><text x="73" y="628" text-anchor="end">0.0</text><text x="73" y="680" text-anchor="end">-0.2</text><text x="73" y="732" text-anchor="end">-0.4</text><text x="73" y="784" text-anchor="end">-0.6</text><text x="73" y="836" text-anchor="end">-0.8</text><text x="73" y="888" text-anchor="end">-1.0</text><text x="73" y="940" text-anchor="end">-1.2</text><text x="73" y="992" text-anchor="end">-1.4</text><text x="73" y="1044" text-anchor="end">-1.6</text><text x="73" y="1096" text-anchor="end">-1.8</text><text x="73" y="1148" text-anchor="end">-2.0</text><text x="84" y="1172.5" text-anchor="middle">7.0</text><text x="148.6" y="1172.5" text-anchor="middle">7.2</text><text x="213.2" y="1172.5" text-anchor="middle">7.4</text><text x="277.8" y="1172.5" text-anchor="middle">7.6</text><text x="342.4" y="1172.5" text-anchor="middle">7.8</text><text x="407" y="1172.5" text-anchor="middle">8.0</text><text x="471.6" y="1172.5" text-anchor="middle">8.2</text><text x="536.2" y="1172.5" text-anchor="middle">8.4</text><text x="600.8" y="1172.5" text-anchor="middle">8.6</text><text x="665.4" y="1172.5" text-anchor="middle">8.8</text><text x="730" y="1172.5" text-anchor="middle">9.0</text><text x="407" y="1205" text-anchor="middle">Frequency(GHz)</text><text transform="translate(24,863) rotate(-90)" text-anchor="middle">Amplitude(dB)</text><text x="215.5" y="964.3">00</text><text x="215.5" y="997.4">01</text><text x="215.5" y="1030.5">10</text><text x="215.5" y="1063.6">11</text><text x="560" y="1070"><tspan font-style="italic">θ</tspan>=40°</text></g>
<clipPath id="c3"><rect x="837" y="620" width="646" height="513"/></clipPath>
<line x1="1160" y1="620" x2="1160" y2="1133" stroke="#444" stroke-width="1.4" stroke-dasharray="3.8 3.2" fill="none"/>
<line x1="837" y1="876.5" x2="1483" y2="876.5" stroke="#444" stroke-width="1.4" stroke-dasharray="3.8 3.2" fill="none"/>
<g clip-path="url(#c3)">
<path d="M837 686.69C847.75 681.8 858.49 677.85 869.24 674.63C879.99 671.42 890.73 668.93 901.48 666.94C912.23 664.95 922.97 663.47 933.72 662.32C944.47 661.18 955.21 660.37 965.96 659.5C976.71 658.63 987.45 657.7 998.2 657.19C1008.95 656.69 1019.69 656.61 1030.44 656.68C1041.19 656.74 1051.93 656.95 1062.68 657.19C1073.43 657.43 1084.17 657.71 1094.92 658.22C1105.67 658.72 1116.41 659.45 1127.16 660.01C1137.91 660.58 1148.65 660.98 1159.4 661.81C1170.15 662.64 1180.89 663.89 1191.64 664.89C1202.39 665.88 1213.13 666.61 1223.88 667.71C1234.63 668.81 1245.37 670.27 1256.12 671.56C1266.87 672.84 1277.61 673.95 1288.36 675.15C1299.11 676.35 1309.85 677.65 1320.6 679C1331.35 680.34 1342.09 681.73 1352.84 682.84C1363.59 683.95 1374.33 684.78 1385.08 685.66C1395.83 686.55 1406.57 687.49 1417.32 687.97C1428.07 688.46 1438.81 688.49 1449.56 688.23C1460.31 687.96 1471.05 687.4 1481.8 686.69" stroke="#000000" stroke-width="3.3" fill="none" stroke-linejoin="round"/>
<rect x="831.4" y="681.09" width="11.2" height="11.2" fill="#000000"/>
<rect x="863.64" y="669.03" width="11.2" height="11.2" fill="#000000"/>
<rect x="895.88" y="661.34" width="11.2" height="11.2" fill="#000000"/>
<rect x="928.12" y="656.72" width="11.2" height="11.2" fill="#000000"/>
<rect x="960.36" y="653.9" width="11.2" height="11.2" fill="#000000"/>
<rect x="992.6" y="651.59" width="11.2" height="11.2" fill="#000000"/>
<rect x="1024.84" y="651.08" width="11.2" height="11.2" fill="#000000"/>
<rect x="1057.08" y="651.59" width="11.2" height="11.2" fill="#000000"/>
<rect x="1089.32" y="652.62" width="11.2" height="11.2" fill="#000000"/>
<rect x="1121.56" y="654.41" width="11.2" height="11.2" fill="#000000"/>
<rect x="1153.8" y="656.21" width="11.2" height="11.2" fill="#000000"/>
<rect x="1186.04" y="659.29" width="11.2" height="11.2" fill="#000000"/>
<rect x="1218.28" y="662.11" width="11.2" height="11.2" fill="#000000"/>
<rect x="1250.52" y="665.96" width="11.2" height="11.2" fill="#000000"/>
<rect x="1282.76" y="669.55" width="11.2" height="11.2" fill="#000000"/>
<rect x="1315" y="673.39" width="11.2" height="11.2" fill="#000000"/>
<rect x="1347.24" y="677.24" width="11.2" height="11.2" fill="#000000"/>
<rect x="1379.48" y="680.06" width="11.2" height="11.2" fill="#000000"/>
<rect x="1411.72" y="682.37" width="11.2" height="11.2" fill="#000000"/>
<rect x="1443.96" y="682.63" width="11.2" height="11.2" fill="#000000"/>
<rect x="1476.2" y="681.09" width="11.2" height="11.2" fill="#000000"/>
<path d="M837 651.81C847.75 654.05 858.49 656.92 869.24 660.53C879.99 664.13 890.73 668.46 901.48 673.61C912.23 678.76 922.97 684.72 933.72 692.59C944.47 700.46 955.21 710.23 965.96 721.06C976.71 731.89 987.45 743.78 998.2 758.25C1008.95 772.73 1019.69 789.78 1030.44 806.73C1041.19 823.68 1051.93 840.54 1062.68 853.67C1073.43 866.81 1084.17 876.23 1094.92 881.12C1105.67 886.01 1116.41 886.37 1127.16 884.45C1137.91 882.54 1148.65 878.34 1159.4 873.93C1170.15 869.53 1180.89 864.9 1191.64 860.85C1202.39 856.81 1213.13 853.33 1223.88 850.85C1234.63 848.37 1245.37 846.87 1256.12 845.98C1266.87 845.08 1277.61 844.8 1288.36 844.69C1299.11 844.59 1309.85 844.67 1320.6 844.69C1331.35 844.72 1342.09 844.7 1352.84 843.15C1363.59 841.61 1374.33 838.55 1385.08 834.43C1395.83 830.32 1406.57 825.15 1417.32 818.79C1428.07 812.42 1438.81 804.85 1449.56 796.73C1460.31 788.6 1471.05 779.92 1481.8 771.34" stroke="#ff0000" stroke-width="3.3" fill="none" stroke-linejoin="round"/>
<circle cx="837" cy="651.81" r="6.3" fill="#ff0000"/>
<circle cx="869.24" cy="660.53" r="6.3" fill="#ff0000"/>
<circle cx="901.48" cy="673.61" r="6.3" fill="#ff0000"/>
<circle cx="933.72" cy="692.59" r="6.3" fill="#ff0000"/>
<circle cx="965.96" cy="721.06" r="6.3" fill="#ff0000"/>
<circle cx="998.2" cy="758.25" r="6.3" fill="#ff0000"/>
<circle cx="1030.44" cy="806.73" r="6.3" fill="#ff0000"/>
<circle cx="1062.68" cy="853.67" r="6.3" fill="#ff0000"/>
<circle cx="1094.92" cy="881.12" r="6.3" fill="#ff0000"/>
<circle cx="1127.16" cy="884.45" r="6.3" fill="#ff0000"/>
<circle cx="1159.4" cy="873.93" r="6.3" fill="#ff0000"/>
<circle cx="1191.64" cy="860.85" r="6.3" fill="#ff0000"/>
<circle cx="1223.88" cy="850.85" r="6.3" fill="#ff0000"/>
<circle cx="1256.12" cy="845.98" r="6.3" fill="#ff0000"/>
<circle cx="1288.36" cy="844.69" r="6.3" fill="#ff0000"/>
<circle cx="1320.6" cy="844.69" r="6.3" fill="#ff0000"/>
<circle cx="1352.84" cy="843.15" r="6.3" fill="#ff0000"/>
<circle cx="1385.08" cy="834.43" r="6.3" fill="#ff0000"/>
<circle cx="1417.32" cy="818.79" r="6.3" fill="#ff0000"/>
<circle cx="1449.56" cy="796.73" r="6.3" fill="#ff0000"/>
<circle cx="1481.8" cy="771.34" r="6.3" fill="#ff0000"/>
<path d="M837 641.8C847.75 642.56 858.49 643.47 869.24 644.62C879.99 645.78 890.73 647.2 901.48 648.98C912.23 650.77 922.97 652.93 933.72 655.14C944.47 657.35 955.21 659.62 965.96 662.32C976.71 665.02 987.45 668.16 998.2 671.81C1008.95 675.47 1019.69 679.64 1030.44 684.12C1041.19 688.61 1051.93 693.41 1062.68 698.23C1073.43 703.05 1084.17 707.89 1094.92 713.11C1105.67 718.33 1116.41 723.95 1127.16 729.01C1137.91 734.08 1148.65 738.59 1159.4 742.86C1170.15 747.14 1180.89 751.17 1191.64 754.92C1202.39 758.67 1213.13 762.14 1223.88 765.44C1234.63 768.73 1245.37 771.85 1256.12 775.44C1266.87 779.03 1277.61 783.1 1288.36 788.01C1299.11 792.92 1309.85 798.67 1320.6 805.71C1331.35 812.74 1342.09 821.06 1352.84 830.84C1363.59 840.63 1374.33 851.88 1385.08 864.44C1395.83 877.01 1406.57 890.9 1417.32 904.2C1428.07 917.5 1438.81 930.22 1449.56 939.86C1460.31 949.49 1471.05 956.05 1481.8 957.04" stroke="#0000ff" stroke-width="3.3" fill="none" stroke-linejoin="round"/>
<path d="M837 633.8L845 641.8L837 649.8L829 641.8Z" fill="#0000ff"/>
<path d="M869.24 636.62L877.24 644.62L869.24 652.62L861.24 644.62Z" fill="#0000ff"/>
<path d="M901.48 640.98L909.48 648.98L901.48 656.98L893.48 648.98Z" fill="#0000ff"/>
<path d="M933.72 647.14L941.72 655.14L933.72 663.14L925.72 655.14Z" fill="#0000ff"/>
<path d="M965.96 654.32L973.96 662.32L965.96 670.32L957.96 662.32Z" fill="#0000ff"/>
<path d="M998.2 663.81L1006.2 671.81L998.2 679.81L990.2 671.81Z" fill="#0000ff"/>
<path d="M1030.44 676.12L1038.44 684.12L1030.44 692.12L1022.44 684.12Z" fill="#0000ff"/>
<path d="M1062.68 690.23L1070.68 698.23L1062.68 706.23L1054.68 698.23Z" fill="#0000ff"/>
<path d="M1094.92 705.11L1102.92 713.11L1094.92 721.11L1086.92 713.11Z" fill="#0000ff"/>
<path d="M1127.16 721.01L1135.16 729.01L1127.16 737.01L1119.16 729.01Z" fill="#0000ff"/>
<path d="M1159.4 734.86L1167.4 742.86L1159.4 750.86L1151.4 742.86Z" fill="#0000ff"/>
<path d="M1191.64 746.92L1199.64 754.92L1191.64 762.92L1183.64 754.92Z" fill="#0000ff"/>
<path d="M1223.88 757.44L1231.88 765.44L1223.88 773.44L1215.88 765.44Z" fill="#0000ff"/>
<path d="M1256.12 767.44L1264.12 775.44L1256.12 783.44L1248.12 775.44Z" fill="#0000ff"/>
<path d="M1288.36 780.01L1296.36 788.01L1288.36 796.01L1280.36 788.01Z" fill="#0000ff"/>
<path d="M1320.6 797.71L1328.6 805.71L1320.6 813.71L1312.6 805.71Z" fill="#0000ff"/>
<path d="M1352.84 822.84L1360.84 830.84L1352.84 838.84L1344.84 830.84Z" fill="#0000ff"/>
<path d="M1385.08 856.44L1393.08 864.44L1385.08 872.44L1377.08 864.44Z" fill="#0000ff"/>
<path d="M1417.32 896.2L1425.32 904.2L1417.32 912.2L1409.32 904.2Z" fill="#0000ff"/>
<path d="M1449.56 931.86L1457.56 939.86L1449.56 947.86L1441.56 939.86Z" fill="#0000ff"/>
<path d="M1481.8 949.04L1489.8 957.04L1481.8 965.04L1473.8 957.04Z" fill="#0000ff"/>
<path d="M837 635.65C847.75 636.14 858.49 636.66 869.24 637.19C879.99 637.71 890.73 638.23 901.48 638.72C912.23 639.21 922.97 639.67 933.72 640.26C944.47 640.86 955.21 641.59 965.96 642.32C976.71 643.04 987.45 643.75 998.2 644.62C1008.95 645.5 1019.69 646.54 1030.44 647.45C1041.19 648.35 1051.93 649.12 1062.68 650.01C1073.43 650.9 1084.17 651.91 1094.92 652.83C1105.67 653.76 1116.41 654.6 1127.16 655.65C1137.91 656.71 1148.65 657.98 1159.4 658.99C1170.15 659.99 1180.89 660.73 1191.64 661.55C1202.39 662.38 1213.13 663.29 1223.88 663.86C1234.63 664.44 1245.37 664.68 1256.12 664.89C1266.87 665.1 1277.61 665.28 1288.36 665.4C1299.11 665.52 1309.85 665.59 1320.6 665.4C1331.35 665.21 1342.09 664.77 1352.84 664.12C1363.59 663.46 1374.33 662.6 1385.08 661.55C1395.83 660.51 1406.57 659.28 1417.32 658.22C1428.07 657.16 1438.81 656.25 1449.56 655.4C1460.31 654.54 1471.05 653.72 1481.8 652.83" stroke="#ff00ff" stroke-width="3.3" fill="none" stroke-linejoin="round"/>
<path d="M829.5 631.31L844.5 631.31L837 644.31Z" fill="#ff00ff"/>
<path d="M861.74 632.85L876.74 632.85L869.24 645.85Z" fill="#ff00ff"/>
<path d="M893.98 634.39L908.98 634.39L901.48 647.39Z" fill="#ff00ff"/>
<path d="M926.22 635.93L941.22 635.93L933.72 648.93Z" fill="#ff00ff"/>
<path d="M958.46 637.98L973.46 637.98L965.96 650.98Z" fill="#ff00ff"/>
<path d="M990.7 640.29L1005.7 640.29L998.2 653.29Z" fill="#ff00ff"/>
<path d="M1022.94 643.11L1037.94 643.11L1030.44 656.11Z" fill="#ff00ff"/>
<path d="M1055.18 645.68L1070.18 645.68L1062.68 658.68Z" fill="#ff00ff"/>
<path d="M1087.42 648.5L1102.42 648.5L1094.92 661.5Z" fill="#ff00ff"/>
<path d="M1119.66 651.32L1134.66 651.32L1127.16 664.32Z" fill="#ff00ff"/>
<path d="M1151.9 654.65L1166.9 654.65L1159.4 667.65Z" fill="#ff00ff"/>
<path d="M1184.14 657.22L1199.14 657.22L1191.64 670.22Z" fill="#ff00ff"/>
<path d="M1216.38 659.53L1231.38 659.53L1223.88 672.53Z" fill="#ff00ff"/>
<path d="M1248.62 660.55L1263.62 660.55L1256.12 673.55Z" fill="#ff00ff"/>
<path d="M1280.86 661.07L1295.86 661.07L1288.36 674.07Z" fill="#ff00ff"/>
<path d="M1313.1 661.07L1328.1 661.07L1320.6 674.07Z" fill="#ff00ff"/>
<path d="M1345.34 659.78L1360.34 659.78L1352.84 672.78Z" fill="#ff00ff"/>
<path d="M1377.58 657.22L1392.58 657.22L1385.08 670.22Z" fill="#ff00ff"/>
<path d="M1409.82 653.89L1424.82 653.89L1417.32 666.89Z" fill="#ff00ff"/>
<path d="M1442.06 651.06L1457.06 651.06L1449.56 664.06Z" fill="#ff00ff"/>
<path d="M1474.3 648.5L1489.3 648.5L1481.8 661.5Z" fill="#ff00ff"/>
</g>
<rect x="837" y="620" width="646" height="513" fill="none" stroke="#000" stroke-width="2"/>
<path d="M901.6 1133v-10M966.2 1133v-10M1030.8 1133v-10M1095.4 1133v-10M1160 1133v-10M1224.6 1133v-10M1289.2 1133v-10M1353.8 1133v-10M1418.4 1133v-10M837 671.3h10M837 722.6h10M837 773.9h10M837 825.2h10M837 876.5h10M837 927.8h10M837 979.1h10M837 1030.4h10M837 1081.7h10" stroke="#000" stroke-width="2" fill="none"/>
<line x1="900" y1="951.6" x2="962.5" y2="951.6" stroke="#000000" stroke-width="3.3" stroke-linecap="round"/>
<rect x="925.65" y="946" width="11.2" height="11.2" fill="#000000"/>
<line x1="900" y1="984.3" x2="962.5" y2="984.3" stroke="#ff0000" stroke-width="3.3" stroke-linecap="round"/>
<circle cx="931.25" cy="984.3" r="6.3" fill="#ff0000"/>
<line x1="900" y1="1017" x2="962.5" y2="1017" stroke="#0000ff" stroke-width="3.3" stroke-linecap="round"/>
<path d="M931.25 1009L939.25 1017L931.25 1025L923.25 1017Z" fill="#0000ff"/>
<line x1="900" y1="1049.7" x2="962.5" y2="1049.7" stroke="#ff00ff" stroke-width="3.3" stroke-linecap="round"/>
<path d="M923.75 1045.37L938.75 1045.37L931.25 1058.37Z" fill="#ff00ff"/>
<g font-family="'Liberation Serif','Times New Roman',serif" font-size="27" fill="#000"><text x="826" y="628" text-anchor="end">0.0</text><text x="826" y="679.3" text-anchor="end">-0.2</text><text x="826" y="730.6" text-anchor="end">-0.4</text><text x="826" y="781.9" text-anchor="end">-0.6</text><text x="826" y="833.2" text-anchor="end">-0.8</text><text x="826" y="884.5" text-anchor="end">-1.0</text><text x="826" y="935.8" text-anchor="end">-1.2</text><text x="826" y="987.1" text-anchor="end">-1.4</text><text x="826" y="1038.4" text-anchor="end">-1.6</text><text x="826" y="1089.7" text-anchor="end">-1.8</text><text x="826" y="1141" text-anchor="end">-2.0</text><text x="837" y="1165.5" text-anchor="middle">7.0</text><text x="901.6" y="1165.5" text-anchor="middle">7.2</text><text x="966.2" y="1165.5" text-anchor="middle">7.4</text><text x="1030.8" y="1165.5" text-anchor="middle">7.6</text><text x="1095.4" y="1165.5" text-anchor="middle">7.8</text><text x="1160" y="1165.5" text-anchor="middle">8.0</text><text x="1224.6" y="1165.5" text-anchor="middle">8.2</text><text x="1289.2" y="1165.5" text-anchor="middle">8.4</text><text x="1353.8" y="1165.5" text-anchor="middle">8.6</text><text x="1418.4" y="1165.5" text-anchor="middle">8.8</text><text x="1483" y="1165.5" text-anchor="middle">9.0</text><text x="1160" y="1197" text-anchor="middle">Frequency(GHz)</text><text transform="translate(777,860) rotate(-90)" text-anchor="middle">Amplitude(dB)</text><text x="968.5" y="960.6">00</text><text x="968.5" y="993.3">01</text><text x="968.5" y="1026">10</text><text x="968.5" y="1058.7">11</text><text x="1313" y="1063"><tspan font-style="italic">θ</tspan>=60°</text></g>
<clipPath id="c4"><rect x="95.6" y="1231" width="637" height="513"/></clipPath>
<line x1="414.1" y1="1231" x2="414.1" y2="1744" stroke="#444" stroke-width="1.4" stroke-dasharray="3.8 3.2" fill="none"/>
<g clip-path="url(#c4)">
<path d="M95.6 1500.25C106.2 1502.35 116.79 1504.09 127.39 1505.67C137.99 1507.25 148.58 1508.66 159.18 1510.09C169.78 1511.51 180.37 1512.95 190.97 1514.43C201.57 1515.91 212.16 1517.42 222.76 1518.85C233.36 1520.28 243.95 1521.62 254.55 1523.2C265.15 1524.78 275.74 1526.6 286.34 1528.26C296.94 1529.91 307.53 1531.41 318.13 1533.1C328.73 1534.79 339.32 1536.67 349.92 1538.59C360.52 1540.5 371.11 1542.44 381.71 1544.71C392.31 1546.99 402.9 1549.6 413.5 1552.2C424.1 1554.79 434.69 1557.37 445.29 1560.1C455.89 1562.84 466.48 1565.73 477.08 1568.87C487.68 1572.01 498.27 1575.4 508.87 1579.13C519.47 1582.85 530.06 1586.91 540.66 1591.24C551.26 1595.57 561.85 1600.17 572.45 1604.78C583.05 1609.39 593.64 1614.01 604.24 1619.03C614.84 1624.04 625.43 1629.44 636.03 1634.63C646.63 1639.82 657.22 1644.8 667.82 1649.31C678.42 1653.82 689.01 1657.86 699.61 1661.35C710.21 1664.84 720.8 1667.79 731.4 1670.11" stroke="#000000" stroke-width="3.3" fill="none" stroke-linejoin="round"/>
<rect x="90" y="1494.65" width="11.2" height="11.2" fill="#000000"/>
<rect x="121.79" y="1500.07" width="11.2" height="11.2" fill="#000000"/>
<rect x="153.58" y="1504.49" width="11.2" height="11.2" fill="#000000"/>
<rect x="185.37" y="1508.83" width="11.2" height="11.2" fill="#000000"/>
<rect x="217.16" y="1513.25" width="11.2" height="11.2" fill="#000000"/>
<rect x="248.95" y="1517.6" width="11.2" height="11.2" fill="#000000"/>
<rect x="280.74" y="1522.66" width="11.2" height="11.2" fill="#000000"/>
<rect x="312.53" y="1527.5" width="11.2" height="11.2" fill="#000000"/>
<rect x="344.32" y="1532.99" width="11.2" height="11.2" fill="#000000"/>
<rect x="376.11" y="1539.11" width="11.2" height="11.2" fill="#000000"/>
<rect x="407.9" y="1546.6" width="11.2" height="11.2" fill="#000000"/>
<rect x="439.69" y="1554.5" width="11.2" height="11.2" fill="#000000"/>
<rect x="471.48" y="1563.27" width="11.2" height="11.2" fill="#000000"/>
<rect x="503.27" y="1573.53" width="11.2" height="11.2" fill="#000000"/>
<rect x="535.06" y="1585.64" width="11.2" height="11.2" fill="#000000"/>
<rect x="566.85" y="1599.18" width="11.2" height="11.2" fill="#000000"/>
<rect x="598.64" y="1613.43" width="11.2" height="11.2" fill="#000000"/>
<rect x="630.43" y="1629.03" width="11.2" height="11.2" fill="#000000"/>
<rect x="662.22" y="1643.71" width="11.2" height="11.2" fill="#000000"/>
<rect x="694.01" y="1655.75" width="11.2" height="11.2" fill="#000000"/>
<rect x="725.8" y="1664.51" width="11.2" height="11.2" fill="#000000"/>
<path d="M95.6 1310.59C106.2 1313.05 116.79 1316.12 127.39 1319.78C137.99 1323.44 148.58 1327.69 159.18 1332.53C169.78 1337.37 180.37 1342.79 190.97 1348.92C201.57 1355.05 212.16 1361.9 222.76 1369.08C233.36 1376.27 243.95 1383.8 254.55 1391.67C265.15 1399.54 275.74 1407.76 286.34 1415.82C296.94 1423.89 307.53 1431.79 318.13 1438.84C328.73 1445.88 339.32 1452.06 349.92 1457.93C360.52 1463.8 371.11 1469.35 381.71 1474.53C392.31 1479.71 402.9 1484.51 413.5 1489.28C424.1 1494.05 434.69 1498.79 445.29 1503.53C455.89 1508.28 466.48 1513.03 477.08 1518.21C487.68 1523.38 498.27 1528.97 508.87 1534.88C519.47 1540.79 530.06 1547.01 540.66 1553.9C551.26 1560.8 561.85 1568.37 572.45 1576.49C583.05 1584.61 593.64 1593.27 604.24 1601.71C614.84 1610.16 625.43 1618.38 636.03 1626.3C646.63 1634.21 657.22 1641.81 667.82 1648.24C678.42 1654.67 689.01 1659.91 699.61 1664.63C710.21 1669.34 720.8 1673.52 731.4 1677.81" stroke="#ff0000" stroke-width="3.3" fill="none" stroke-linejoin="round"/>
<circle cx="95.6" cy="1310.59" r="6.3" fill="#ff0000"/>
<circle cx="127.39" cy="1319.78" r="6.3" fill="#ff0000"/>
<circle cx="159.18" cy="1332.53" r="6.3" fill="#ff0000"/>
<circle cx="190.97" cy="1348.92" r="6.3" fill="#ff0000"/>
<circle cx="222.76" cy="1369.08" r="6.3" fill="#ff0000"/>
<circle cx="254.55" cy="1391.67" r="6.3" fill="#ff0000"/>
<circle cx="286.34" cy="1415.82" r="6.3" fill="#ff0000"/>
<circle cx="318.13" cy="1438.84" r="6.3" fill="#ff0000"/>
<circle cx="349.92" cy="1457.93" r="6.3" fill="#ff0000"/>
<circle cx="381.71" cy="1474.53" r="6.3" fill="#ff0000"/>
<circle cx="413.5" cy="1489.28" r="6.3" fill="#ff0000"/>
<circle cx="445.29" cy="1503.53" r="6.3" fill="#ff0000"/>
<circle cx="477.08" cy="1518.21" r="6.3" fill="#ff0000"/>
<circle cx="508.87" cy="1534.88" r="6.3" fill="#ff0000"/>
<circle cx="540.66" cy="1553.9" r="6.3" fill="#ff0000"/>
<circle cx="572.45" cy="1576.49" r="6.3" fill="#ff0000"/>
<circle cx="604.24" cy="1601.71" r="6.3" fill="#ff0000"/>
<circle cx="636.03" cy="1626.3" r="6.3" fill="#ff0000"/>
<circle cx="667.82" cy="1648.24" r="6.3" fill="#ff0000"/>
<circle cx="699.61" cy="1664.63" r="6.3" fill="#ff0000"/>
<circle cx="731.4" cy="1677.81" r="6.3" fill="#ff0000"/>
<path d="M95.6 1303.6C106.2 1305.78 116.79 1308.07 127.39 1310.59C137.99 1313.1 148.58 1315.84 159.18 1318.92C169.78 1322 180.37 1325.42 190.97 1329.25C201.57 1333.09 212.16 1337.33 222.76 1341.94C233.36 1346.54 243.95 1351.52 254.55 1356.61C265.15 1361.71 275.74 1366.93 286.34 1372.43C296.94 1377.93 307.53 1383.71 318.13 1389.53C328.73 1395.35 339.32 1401.22 349.92 1406.63C360.52 1412.05 371.11 1417.02 381.71 1421.95C392.31 1426.88 402.9 1431.78 413.5 1436.34C424.1 1440.91 434.69 1445.14 445.29 1449.17C455.89 1453.2 466.48 1457.03 477.08 1460.78C487.68 1464.53 498.27 1468.2 508.87 1471.75C519.47 1475.31 530.06 1478.75 540.66 1482.23C551.26 1485.71 561.85 1489.23 572.45 1492.99C583.05 1496.75 593.64 1500.75 604.24 1505.24C614.84 1509.73 625.43 1514.71 636.03 1520.63C646.63 1526.55 657.22 1533.41 667.82 1541.86C678.42 1550.32 689.01 1560.37 699.61 1571.5C710.21 1582.64 720.8 1594.85 731.4 1607.63" stroke="#0000ff" stroke-width="3.3" fill="none" stroke-linejoin="round"/>
<path d="M95.6 1295.6L103.6 1303.6L95.6 1311.6L87.6 1303.6Z" fill="#0000ff"/>
<path d="M127.39 1302.59L135.39 1310.59L127.39 1318.59L119.39 1310.59Z" fill="#0000ff"/>
<path d="M159.18 1310.92L167.18 1318.92L159.18 1326.92L151.18 1318.92Z" fill="#0000ff"/>
<path d="M190.97 1321.25L198.97 1329.25L190.97 1337.25L182.97 1329.25Z" fill="#0000ff"/>
<path d="M222.76 1333.94L230.76 1341.94L222.76 1349.94L214.76 1341.94Z" fill="#0000ff"/>
<path d="M254.55 1348.61L262.55 1356.61L254.55 1364.61L246.55 1356.61Z" fill="#0000ff"/>
<path d="M286.34 1364.43L294.34 1372.43L286.34 1380.43L278.34 1372.43Z" fill="#0000ff"/>
<path d="M318.13 1381.53L326.13 1389.53L318.13 1397.53L310.13 1389.53Z" fill="#0000ff"/>
<path d="M349.92 1398.63L357.92 1406.63L349.92 1414.63L341.92 1406.63Z" fill="#0000ff"/>
<path d="M381.71 1413.95L389.71 1421.95L381.71 1429.95L373.71 1421.95Z" fill="#0000ff"/>
<path d="M413.5 1428.34L421.5 1436.34L413.5 1444.34L405.5 1436.34Z" fill="#0000ff"/>
<path d="M445.29 1441.17L453.29 1449.17L445.29 1457.17L437.29 1449.17Z" fill="#0000ff"/>
<path d="M477.08 1452.78L485.08 1460.78L477.08 1468.78L469.08 1460.78Z" fill="#0000ff"/>
<path d="M508.87 1463.75L516.87 1471.75L508.87 1479.75L500.87 1471.75Z" fill="#0000ff"/>
<path d="M540.66 1474.23L548.66 1482.23L540.66 1490.23L532.66 1482.23Z" fill="#0000ff"/>
<path d="M572.45 1484.99L580.45 1492.99L572.45 1500.99L564.45 1492.99Z" fill="#0000ff"/>
<path d="M604.24 1497.24L612.24 1505.24L604.24 1513.24L596.24 1505.24Z" fill="#0000ff"/>
<path d="M636.03 1512.63L644.03 1520.63L636.03 1528.63L628.03 1520.63Z" fill="#0000ff"/>
<path d="M667.82 1533.86L675.82 1541.86L667.82 1549.86L659.82 1541.86Z" fill="#0000ff"/>
<path d="M699.61 1563.5L707.61 1571.5L699.61 1579.5L691.61 1571.5Z" fill="#0000ff"/>
<path d="M731.4 1599.63L739.4 1607.63L731.4 1615.63L723.4 1607.63Z" fill="#0000ff"/>
<path d="M95.6 1289.07C106.2 1290.46 116.79 1291.73 127.39 1293.06C137.99 1294.39 148.58 1295.77 159.18 1297.4C169.78 1299.04 180.37 1300.91 190.97 1302.89C201.57 1304.87 212.16 1306.95 222.76 1309.02C233.36 1311.09 243.95 1313.14 254.55 1315.64C265.15 1318.15 275.74 1321.1 286.34 1324.19C296.94 1327.29 307.53 1330.55 318.13 1334.03C328.73 1337.51 339.32 1341.22 349.92 1345C360.52 1348.78 371.11 1352.63 381.71 1356.61C392.31 1360.6 402.9 1364.72 413.5 1368.65C424.1 1372.59 434.69 1376.34 445.29 1380.27C455.89 1384.2 466.48 1388.32 477.08 1392.17C487.68 1396.02 498.27 1399.61 508.87 1403.07C519.47 1406.53 530.06 1409.86 540.66 1412.97C551.26 1416.09 561.85 1418.99 572.45 1421.74C583.05 1424.49 593.64 1427.09 604.24 1429.43C614.84 1431.78 625.43 1433.87 636.03 1435.99C646.63 1438.11 657.22 1440.25 667.82 1442.11C678.42 1443.97 689.01 1445.54 699.61 1446.96C710.21 1448.37 720.8 1449.64 731.4 1450.88" stroke="#ff00ff" stroke-width="3.3" fill="none" stroke-linejoin="round"/>
<path d="M88.1 1284.74L103.1 1284.74L95.6 1297.74Z" fill="#ff00ff"/>
<path d="M119.89 1288.73L134.89 1288.73L127.39 1301.73Z" fill="#ff00ff"/>
<path d="M151.68 1293.07L166.68 1293.07L159.18 1306.07Z" fill="#ff00ff"/>
<path d="M183.47 1298.56L198.47 1298.56L190.97 1311.56Z" fill="#ff00ff"/>
<path d="M215.26 1304.69L230.26 1304.69L222.76 1317.69Z" fill="#ff00ff"/>
<path d="M247.05 1311.31L262.05 1311.31L254.55 1324.31Z" fill="#ff00ff"/>
<path d="M278.84 1319.86L293.84 1319.86L286.34 1332.86Z" fill="#ff00ff"/>
<path d="M310.63 1329.69L325.63 1329.69L318.13 1342.69Z" fill="#ff00ff"/>
<path d="M342.42 1340.67L357.42 1340.67L349.92 1353.67Z" fill="#ff00ff"/>
<path d="M374.21 1352.28L389.21 1352.28L381.71 1365.28Z" fill="#ff00ff"/>
<path d="M406 1364.32L421 1364.32L413.5 1377.32Z" fill="#ff00ff"/>
<path d="M437.79 1375.94L452.79 1375.94L445.29 1388.94Z" fill="#ff00ff"/>
<path d="M469.58 1387.83L484.58 1387.83L477.08 1400.83Z" fill="#ff00ff"/>
<path d="M501.37 1398.74L516.37 1398.74L508.87 1411.74Z" fill="#ff00ff"/>
<path d="M533.16 1408.64L548.16 1408.64L540.66 1421.64Z" fill="#ff00ff"/>
<path d="M564.95 1417.4L579.95 1417.4L572.45 1430.4Z" fill="#ff00ff"/>
<path d="M596.74 1425.1L611.74 1425.1L604.24 1438.1Z" fill="#ff00ff"/>
<path d="M628.53 1431.65L643.53 1431.65L636.03 1444.65Z" fill="#ff00ff"/>
<path d="M660.32 1437.78L675.32 1437.78L667.82 1450.78Z" fill="#ff00ff"/>
<path d="M692.11 1442.63L707.11 1442.63L699.61 1455.63Z" fill="#ff00ff"/>
<path d="M723.9 1446.54L738.9 1446.54L731.4 1459.54Z" fill="#ff00ff"/>
</g>
<rect x="95.6" y="1231" width="637" height="513" fill="none" stroke="#000" stroke-width="2"/>
<path d="M159.3 1744v-10M223 1744v-10M286.7 1744v-10M350.4 1744v-10M414.1 1744v-10M477.8 1744v-10M541.5 1744v-10M605.2 1744v-10M668.9 1744v-10M95.6 1295.12h10M95.6 1359.25h10M95.6 1423.38h10M95.6 1487.5h10M95.6 1551.62h10M95.6 1615.75h10M95.6 1679.88h10" stroke="#000" stroke-width="2" fill="none"/>
<line x1="132.8" y1="1595.6" x2="194.2" y2="1595.6" stroke="#000000" stroke-width="3.3" stroke-linecap="round"/>
<rect x="157.9" y="1590" width="11.2" height="11.2" fill="#000000"/>
<line x1="132.8" y1="1628.5" x2="194.2" y2="1628.5" stroke="#ff0000" stroke-width="3.3" stroke-linecap="round"/>
<circle cx="163.5" cy="1628.5" r="6.3" fill="#ff0000"/>
<line x1="132.8" y1="1661.4" x2="194.2" y2="1661.4" stroke="#0000ff" stroke-width="3.3" stroke-linecap="round"/>
<path d="M163.5 1653.4L171.5 1661.4L163.5 1669.4L155.5 1661.4Z" fill="#0000ff"/>
<line x1="132.8" y1="1694.3" x2="194.2" y2="1694.3" stroke="#ff00ff" stroke-width="3.3" stroke-linecap="round"/>
<path d="M156 1689.97L171 1689.97L163.5 1702.97Z" fill="#ff00ff"/>
<g font-family="'Liberation Serif','Times New Roman',serif" font-size="27" fill="#000"><text x="84.6" y="1239" text-anchor="end">180</text><text x="84.6" y="1303.12" text-anchor="end">90</text><text x="84.6" y="1367.25" text-anchor="end">0</text><text x="84.6" y="1431.38" text-anchor="end">-90</text><text x="84.6" y="1495.5" text-anchor="end">-180</text><text x="84.6" y="1559.62" text-anchor="end">-270</text><text x="84.6" y="1623.75" text-anchor="end">-360</text><text x="84.6" y="1687.88" text-anchor="end">-450</text><text x="84.6" y="1752" text-anchor="end">-540</text><text x="95.6" y="1776.5" text-anchor="middle">7.0</text><text x="159.3" y="1776.5" text-anchor="middle">7.2</text><text x="223" y="1776.5" text-anchor="middle">7.4</text><text x="286.7" y="1776.5" text-anchor="middle">7.6</text><text x="350.4" y="1776.5" text-anchor="middle">7.8</text><text x="414.1" y="1776.5" text-anchor="middle">8.0</text><text x="477.8" y="1776.5" text-anchor="middle">8.2</text><text x="541.5" y="1776.5" text-anchor="middle">8.4</text><text x="605.2" y="1776.5" text-anchor="middle">8.6</text><text x="668.9" y="1776.5" text-anchor="middle">8.8</text><text x="732.6" y="1776.5" text-anchor="middle">9.0</text><text x="415.5" y="1812" text-anchor="middle">Frequency(GHz)</text><text transform="translate(26,1472) rotate(-90)" text-anchor="middle">Phase(degree)</text><text x="200.2" y="1604.6">00</text><text x="200.2" y="1637.5">01</text><text x="200.2" y="1670.4">10</text><text x="200.2" y="1703.3">11</text><text x="541.7" y="1689.8"><tspan font-style="italic">θ</tspan>=0°</text></g>
<clipPath id="c5"><rect x="848.5" y="1224.3" width="637" height="513.5"/></clipPath>
<line x1="1167" y1="1224.3" x2="1167" y2="1737.8" stroke="#444" stroke-width="1.4" stroke-dasharray="3.8 3.2" fill="none"/>
<g clip-path="url(#c5)">
<path d="M848.5 1492.68C859.1 1495.1 869.69 1496.97 880.29 1498.59C890.89 1500.22 901.48 1501.59 912.08 1503.02C922.68 1504.44 933.27 1505.92 943.87 1507.37C954.47 1508.81 965.06 1510.23 975.66 1511.79C986.26 1513.35 996.85 1515.06 1007.45 1516.64C1018.05 1518.22 1028.64 1519.68 1039.24 1521.2C1049.84 1522.73 1060.43 1524.32 1071.03 1526.05C1081.63 1527.78 1092.22 1529.66 1102.82 1531.54C1113.42 1533.43 1124.01 1535.34 1134.61 1537.46C1145.21 1539.59 1155.8 1541.93 1166.4 1544.45C1177 1546.98 1187.59 1549.69 1198.19 1552.37C1208.79 1555.05 1219.38 1557.69 1229.98 1560.5C1240.58 1563.31 1251.17 1566.3 1261.77 1569.91C1272.37 1573.53 1282.96 1577.76 1293.56 1582.04C1304.16 1586.32 1314.75 1590.64 1325.35 1595.16C1335.95 1599.68 1346.54 1604.41 1357.14 1609.42C1367.74 1614.44 1378.33 1619.76 1388.93 1624.83C1399.53 1629.9 1410.12 1634.72 1420.72 1639.09C1431.32 1643.47 1441.91 1647.4 1452.51 1651.15C1463.11 1654.9 1473.7 1658.47 1484.3 1662.13" stroke="#000000" stroke-width="3.3" fill="none" stroke-linejoin="round"/>
<rect x="842.9" y="1487.08" width="11.2" height="11.2" fill="#000000"/>
<rect x="874.69" y="1492.99" width="11.2" height="11.2" fill="#000000"/>
<rect x="906.48" y="1497.42" width="11.2" height="11.2" fill="#000000"/>
<rect x="938.27" y="1501.77" width="11.2" height="11.2" fill="#000000"/>
<rect x="970.06" y="1506.19" width="11.2" height="11.2" fill="#000000"/>
<rect x="1001.85" y="1511.04" width="11.2" height="11.2" fill="#000000"/>
<rect x="1033.64" y="1515.6" width="11.2" height="11.2" fill="#000000"/>
<rect x="1065.43" y="1520.45" width="11.2" height="11.2" fill="#000000"/>
<rect x="1097.22" y="1525.94" width="11.2" height="11.2" fill="#000000"/>
<rect x="1129.01" y="1531.86" width="11.2" height="11.2" fill="#000000"/>
<rect x="1160.8" y="1538.85" width="11.2" height="11.2" fill="#000000"/>
<rect x="1192.59" y="1546.77" width="11.2" height="11.2" fill="#000000"/>
<rect x="1224.38" y="1554.9" width="11.2" height="11.2" fill="#000000"/>
<rect x="1256.17" y="1564.31" width="11.2" height="11.2" fill="#000000"/>
<rect x="1287.96" y="1576.44" width="11.2" height="11.2" fill="#000000"/>
<rect x="1319.75" y="1589.56" width="11.2" height="11.2" fill="#000000"/>
<rect x="1351.54" y="1603.83" width="11.2" height="11.2" fill="#000000"/>
<rect x="1383.33" y="1619.23" width="11.2" height="11.2" fill="#000000"/>
<rect x="1415.12" y="1633.49" width="11.2" height="11.2" fill="#000000"/>
<rect x="1446.91" y="1645.55" width="11.2" height="11.2" fill="#000000"/>
<rect x="1478.7" y="1656.53" width="11.2" height="11.2" fill="#000000"/>
<path d="M848.5 1303.32C859.1 1305.8 869.69 1308.9 880.29 1312.52C890.89 1316.14 901.48 1320.27 912.08 1324.79C922.68 1329.31 933.27 1334.22 943.87 1340.19C954.47 1346.17 965.06 1353.22 975.66 1360.38C986.26 1367.54 996.85 1374.81 1007.45 1382.77C1018.05 1390.73 1028.64 1399.37 1039.24 1407.52C1049.84 1415.67 1060.43 1423.33 1071.03 1430.56C1081.63 1437.78 1092.22 1444.57 1102.82 1450.74C1113.42 1456.91 1124.01 1462.46 1134.61 1467.86C1145.21 1473.25 1155.8 1478.5 1166.4 1483.26C1177 1488.02 1187.59 1492.3 1198.19 1496.88C1208.79 1501.47 1219.38 1506.37 1229.98 1511.36C1240.58 1516.35 1251.17 1521.43 1261.77 1527.12C1272.37 1532.82 1282.96 1539.13 1293.56 1545.81C1304.16 1552.49 1314.75 1559.53 1325.35 1567.06C1335.95 1574.59 1346.54 1582.6 1357.14 1590.81C1367.74 1599.02 1378.33 1607.42 1388.93 1615.34C1399.53 1623.27 1410.12 1630.72 1420.72 1637.31C1431.32 1643.9 1441.91 1649.63 1452.51 1654.86C1463.11 1660.08 1473.7 1664.79 1484.3 1669.33" stroke="#ff0000" stroke-width="3.3" fill="none" stroke-linejoin="round"/>
<circle cx="848.5" cy="1303.32" r="6.3" fill="#ff0000"/>
<circle cx="880.29" cy="1312.52" r="6.3" fill="#ff0000"/>
<circle cx="912.08" cy="1324.79" r="6.3" fill="#ff0000"/>
<circle cx="943.87" cy="1340.19" r="6.3" fill="#ff0000"/>
<circle cx="975.66" cy="1360.38" r="6.3" fill="#ff0000"/>
<circle cx="1007.45" cy="1382.77" r="6.3" fill="#ff0000"/>
<circle cx="1039.24" cy="1407.52" r="6.3" fill="#ff0000"/>
<circle cx="1071.03" cy="1430.56" r="6.3" fill="#ff0000"/>
<circle cx="1102.82" cy="1450.74" r="6.3" fill="#ff0000"/>
<circle cx="1134.61" cy="1467.86" r="6.3" fill="#ff0000"/>
<circle cx="1166.4" cy="1483.26" r="6.3" fill="#ff0000"/>
<circle cx="1198.19" cy="1496.88" r="6.3" fill="#ff0000"/>
<circle cx="1229.98" cy="1511.36" r="6.3" fill="#ff0000"/>
<circle cx="1261.77" cy="1527.12" r="6.3" fill="#ff0000"/>
<circle cx="1293.56" cy="1545.81" r="6.3" fill="#ff0000"/>
<circle cx="1325.35" cy="1567.06" r="6.3" fill="#ff0000"/>
<circle cx="1357.14" cy="1590.81" r="6.3" fill="#ff0000"/>
<circle cx="1388.93" cy="1615.34" r="6.3" fill="#ff0000"/>
<circle cx="1420.72" cy="1637.31" r="6.3" fill="#ff0000"/>
<circle cx="1452.51" cy="1654.86" r="6.3" fill="#ff0000"/>
<circle cx="1484.3" cy="1669.33" r="6.3" fill="#ff0000"/>
<path d="M848.5 1295.62C859.1 1297.91 869.69 1300.18 880.29 1302.61C890.89 1305.03 901.48 1307.61 912.08 1310.53C922.68 1313.44 933.27 1316.68 943.87 1320.44C954.47 1324.19 965.06 1328.45 975.66 1332.92C986.26 1337.39 996.85 1342.06 1007.45 1347.18C1018.05 1352.31 1028.64 1357.89 1039.24 1363.66C1049.84 1369.42 1060.43 1375.37 1071.03 1381.2C1081.63 1387.03 1092.22 1392.75 1102.82 1398.32C1113.42 1403.89 1124.01 1409.32 1134.61 1414.58C1145.21 1419.84 1155.8 1424.94 1166.4 1429.49C1177 1434.03 1187.59 1438.02 1198.19 1441.97C1208.79 1445.91 1219.38 1449.8 1229.98 1453.59C1240.58 1457.38 1251.17 1461.06 1261.77 1464.58C1272.37 1468.09 1282.96 1471.44 1293.56 1474.92C1304.16 1478.39 1314.75 1481.99 1325.35 1485.9C1335.95 1489.81 1346.54 1494.02 1357.14 1498.59C1367.74 1503.17 1378.33 1508.1 1388.93 1514C1399.53 1519.9 1410.12 1526.78 1420.72 1534.82C1431.32 1542.87 1441.91 1552.08 1452.51 1562.71C1463.11 1573.34 1473.7 1585.38 1484.3 1599.08" stroke="#0000ff" stroke-width="3.3" fill="none" stroke-linejoin="round"/>
<path d="M848.5 1287.62L856.5 1295.62L848.5 1303.62L840.5 1295.62Z" fill="#0000ff"/>
<path d="M880.29 1294.61L888.29 1302.61L880.29 1310.61L872.29 1302.61Z" fill="#0000ff"/>
<path d="M912.08 1302.53L920.08 1310.53L912.08 1318.53L904.08 1310.53Z" fill="#0000ff"/>
<path d="M943.87 1312.44L951.87 1320.44L943.87 1328.44L935.87 1320.44Z" fill="#0000ff"/>
<path d="M975.66 1324.92L983.66 1332.92L975.66 1340.92L967.66 1332.92Z" fill="#0000ff"/>
<path d="M1007.45 1339.18L1015.45 1347.18L1007.45 1355.18L999.45 1347.18Z" fill="#0000ff"/>
<path d="M1039.24 1355.66L1047.24 1363.66L1039.24 1371.66L1031.24 1363.66Z" fill="#0000ff"/>
<path d="M1071.03 1373.2L1079.03 1381.2L1071.03 1389.2L1063.03 1381.2Z" fill="#0000ff"/>
<path d="M1102.82 1390.32L1110.82 1398.32L1102.82 1406.32L1094.82 1398.32Z" fill="#0000ff"/>
<path d="M1134.61 1406.58L1142.61 1414.58L1134.61 1422.58L1126.61 1414.58Z" fill="#0000ff"/>
<path d="M1166.4 1421.49L1174.4 1429.49L1166.4 1437.49L1158.4 1429.49Z" fill="#0000ff"/>
<path d="M1198.19 1433.97L1206.19 1441.97L1198.19 1449.97L1190.19 1441.97Z" fill="#0000ff"/>
<path d="M1229.98 1445.59L1237.98 1453.59L1229.98 1461.59L1221.98 1453.59Z" fill="#0000ff"/>
<path d="M1261.77 1456.58L1269.77 1464.58L1261.77 1472.58L1253.77 1464.58Z" fill="#0000ff"/>
<path d="M1293.56 1466.92L1301.56 1474.92L1293.56 1482.92L1285.56 1474.92Z" fill="#0000ff"/>
<path d="M1325.35 1477.9L1333.35 1485.9L1325.35 1493.9L1317.35 1485.9Z" fill="#0000ff"/>
<path d="M1357.14 1490.59L1365.14 1498.59L1357.14 1506.59L1349.14 1498.59Z" fill="#0000ff"/>
<path d="M1388.93 1506L1396.93 1514L1388.93 1522L1380.93 1514Z" fill="#0000ff"/>
<path d="M1420.72 1526.82L1428.72 1534.82L1420.72 1542.82L1412.72 1534.82Z" fill="#0000ff"/>
<path d="M1452.51 1554.71L1460.51 1562.71L1452.51 1570.71L1444.51 1562.71Z" fill="#0000ff"/>
<path d="M1484.3 1591.08L1492.3 1599.08L1484.3 1607.08L1476.3 1599.08Z" fill="#0000ff"/>
<path d="M848.5 1282C859.1 1283.26 869.69 1284.47 880.29 1285.78C890.89 1287.09 901.48 1288.49 912.08 1290.13C922.68 1291.77 933.27 1293.64 943.87 1295.62C954.47 1297.6 965.06 1299.67 975.66 1301.75C986.26 1303.83 996.85 1305.92 1007.45 1308.31C1018.05 1310.71 1028.64 1313.41 1039.24 1316.44C1049.84 1319.48 1060.43 1322.83 1071.03 1326.36C1081.63 1329.88 1092.22 1333.57 1102.82 1337.34C1113.42 1341.11 1124.01 1344.96 1134.61 1348.75C1145.21 1352.55 1155.8 1356.3 1166.4 1360.16C1177 1364.03 1187.59 1368.02 1198.19 1372C1208.79 1375.98 1219.38 1379.96 1229.98 1383.84C1240.58 1387.73 1251.17 1391.52 1261.77 1395.04C1272.37 1398.55 1282.96 1401.79 1293.56 1404.88C1304.16 1407.97 1314.75 1410.92 1325.35 1413.65C1335.95 1416.39 1346.54 1418.9 1357.14 1421.36C1367.74 1423.81 1378.33 1426.21 1388.93 1428.42C1399.53 1430.63 1410.12 1432.65 1420.72 1434.55C1431.32 1436.45 1441.91 1438.21 1452.51 1439.83C1463.11 1441.44 1473.7 1442.9 1484.3 1444.18" stroke="#ff00ff" stroke-width="3.3" fill="none" stroke-linejoin="round"/>
<path d="M841 1277.66L856 1277.66L848.5 1290.66Z" fill="#ff00ff"/>
<path d="M872.79 1281.44L887.79 1281.44L880.29 1294.44Z" fill="#ff00ff"/>
<path d="M904.58 1285.79L919.58 1285.79L912.08 1298.79Z" fill="#ff00ff"/>
<path d="M936.37 1291.29L951.37 1291.29L943.87 1304.29Z" fill="#ff00ff"/>
<path d="M968.16 1297.42L983.16 1297.42L975.66 1310.42Z" fill="#ff00ff"/>
<path d="M999.95 1303.98L1014.95 1303.98L1007.45 1316.98Z" fill="#ff00ff"/>
<path d="M1031.74 1312.11L1046.74 1312.11L1039.24 1325.11Z" fill="#ff00ff"/>
<path d="M1063.53 1322.02L1078.53 1322.02L1071.03 1335.02Z" fill="#ff00ff"/>
<path d="M1095.32 1333.01L1110.32 1333.01L1102.82 1346.01Z" fill="#ff00ff"/>
<path d="M1127.11 1344.42L1142.11 1344.42L1134.61 1357.42Z" fill="#ff00ff"/>
<path d="M1158.9 1355.83L1173.9 1355.83L1166.4 1368.83Z" fill="#ff00ff"/>
<path d="M1190.69 1367.67L1205.69 1367.67L1198.19 1380.67Z" fill="#ff00ff"/>
<path d="M1222.48 1379.51L1237.48 1379.51L1229.98 1392.51Z" fill="#ff00ff"/>
<path d="M1254.27 1390.71L1269.27 1390.71L1261.77 1403.71Z" fill="#ff00ff"/>
<path d="M1286.06 1400.55L1301.06 1400.55L1293.56 1413.55Z" fill="#ff00ff"/>
<path d="M1317.85 1409.32L1332.85 1409.32L1325.35 1422.32Z" fill="#ff00ff"/>
<path d="M1349.64 1417.02L1364.64 1417.02L1357.14 1430.02Z" fill="#ff00ff"/>
<path d="M1381.43 1424.08L1396.43 1424.08L1388.93 1437.08Z" fill="#ff00ff"/>
<path d="M1413.22 1430.22L1428.22 1430.22L1420.72 1443.22Z" fill="#ff00ff"/>
<path d="M1445.01 1435.49L1460.01 1435.49L1452.51 1448.49Z" fill="#ff00ff"/>
<path d="M1476.8 1439.84L1491.8 1439.84L1484.3 1452.84Z" fill="#ff00ff"/>
</g>
<rect x="848.5" y="1224.3" width="637" height="513.5" fill="none" stroke="#000" stroke-width="2"/>
<path d="M912.2 1737.8v-10M975.9 1737.8v-10M1039.6 1737.8v-10M1103.3 1737.8v-10M1167 1737.8v-10M1230.7 1737.8v-10M1294.4 1737.8v-10M1358.1 1737.8v-10M1421.8 1737.8v-10M848.5 1288.49h10M848.5 1352.67h10M848.5 1416.86h10M848.5 1481.05h10M848.5 1545.24h10M848.5 1609.42h10M848.5 1673.61h10" stroke="#000" stroke-width="2" fill="none"/>
<line x1="885.8" y1="1588.6" x2="947.2" y2="1588.6" stroke="#000000" stroke-width="3.3" stroke-linecap="round"/>
<rect x="910.9" y="1583" width="11.2" height="11.2" fill="#000000"/>
<line x1="885.8" y1="1621.5" x2="947.2" y2="1621.5" stroke="#ff0000" stroke-width="3.3" stroke-linecap="round"/>
<circle cx="916.5" cy="1621.5" r="6.3" fill="#ff0000"/>
<line x1="885.8" y1="1654.4" x2="947.2" y2="1654.4" stroke="#0000ff" stroke-width="3.3" stroke-linecap="round"/>
<path d="M916.5 1646.4L924.5 1654.4L916.5 1662.4L908.5 1654.4Z" fill="#0000ff"/>
<line x1="885.8" y1="1687.3" x2="947.2" y2="1687.3" stroke="#ff00ff" stroke-width="3.3" stroke-linecap="round"/>
<path d="M909 1682.97L924 1682.97L916.5 1695.97Z" fill="#ff00ff"/>
<g font-family="'Liberation Serif','Times New Roman',serif" font-size="27" fill="#000"><text x="837.5" y="1232.3" text-anchor="end">180</text><text x="837.5" y="1296.49" text-anchor="end">90</text><text x="837.5" y="1360.67" text-anchor="end">0</text><text x="837.5" y="1424.86" text-anchor="end">-90</text><text x="837.5" y="1489.05" text-anchor="end">-180</text><text x="837.5" y="1553.24" text-anchor="end">-270</text><text x="837.5" y="1617.42" text-anchor="end">-360</text><text x="837.5" y="1681.61" text-anchor="end">-450</text><text x="837.5" y="1745.8" text-anchor="end">-540</text><text x="848.5" y="1770.3" text-anchor="middle">7.0</text><text x="912.2" y="1770.3" text-anchor="middle">7.2</text><text x="975.9" y="1770.3" text-anchor="middle">7.4</text><text x="1039.6" y="1770.3" text-anchor="middle">7.6</text><text x="1103.3" y="1770.3" text-anchor="middle">7.8</text><text x="1167" y="1770.3" text-anchor="middle">8.0</text><text x="1230.7" y="1770.3" text-anchor="middle">8.2</text><text x="1294.4" y="1770.3" text-anchor="middle">8.4</text><text x="1358.1" y="1770.3" text-anchor="middle">8.6</text><text x="1421.8" y="1770.3" text-anchor="middle">8.8</text><text x="1485.5" y="1770.3" text-anchor="middle">9.0</text><text x="1168" y="1805.5" text-anchor="middle">Frequency(GHz)</text><text transform="translate(779,1466) rotate(-90)" text-anchor="middle">Phase(degree)</text><text x="953.2" y="1597.6">00</text><text x="953.2" y="1630.5">01</text><text x="953.2" y="1663.4">10</text><text x="953.2" y="1696.3">11</text><text x="1302.5" y="1681.8"><tspan font-style="italic">θ</tspan>=20°</text></g>
<clipPath id="c6"><rect x="100.8" y="1828.5" width="637" height="512.8"/></clipPath>
<line x1="419.3" y1="1828.5" x2="419.3" y2="2341.3" stroke="#444" stroke-width="1.4" stroke-dasharray="3.8 3.2" fill="none"/>
<g clip-path="url(#c6)">
<path d="M100.8 2095.44C111.4 2097.59 121.99 2099.63 132.59 2101.57C143.19 2103.5 153.78 2105.33 164.38 2107.05C174.98 2108.77 185.57 2110.38 196.17 2111.89C206.77 2113.4 217.36 2114.81 227.96 2116.24C238.56 2117.66 249.15 2119.1 259.75 2120.65C270.35 2122.21 280.94 2123.89 291.54 2125.43C302.14 2126.96 312.73 2128.36 323.33 2130.05C333.93 2131.75 344.52 2133.75 355.12 2135.54C365.72 2137.32 376.31 2138.9 386.91 2140.81C397.51 2142.72 408.1 2144.98 418.7 2147.15C429.3 2149.32 439.89 2151.39 450.49 2153.91C461.09 2156.44 471.68 2159.4 482.28 2162.25C492.88 2165.09 503.47 2167.81 514.07 2171.01C524.67 2174.21 535.26 2177.88 545.86 2181.55C556.46 2185.21 567.05 2188.87 577.65 2192.94C588.25 2197.02 598.84 2201.52 609.44 2206.05C620.04 2210.58 630.63 2215.14 641.23 2220.29C651.83 2225.45 662.42 2231.19 673.02 2235.68C683.62 2240.17 694.21 2243.41 704.81 2246.65C715.41 2249.88 726 2253.12 736.6 2257.61" stroke="#000000" stroke-width="3.3" fill="none" stroke-linejoin="round"/>
<rect x="95.2" y="2089.84" width="11.2" height="11.2" fill="#000000"/>
<rect x="126.99" y="2095.97" width="11.2" height="11.2" fill="#000000"/>
<rect x="158.78" y="2101.45" width="11.2" height="11.2" fill="#000000"/>
<rect x="190.57" y="2106.29" width="11.2" height="11.2" fill="#000000"/>
<rect x="222.36" y="2110.64" width="11.2" height="11.2" fill="#000000"/>
<rect x="254.15" y="2115.05" width="11.2" height="11.2" fill="#000000"/>
<rect x="285.94" y="2119.83" width="11.2" height="11.2" fill="#000000"/>
<rect x="317.73" y="2124.45" width="11.2" height="11.2" fill="#000000"/>
<rect x="349.52" y="2129.94" width="11.2" height="11.2" fill="#000000"/>
<rect x="381.31" y="2135.21" width="11.2" height="11.2" fill="#000000"/>
<rect x="413.1" y="2141.55" width="11.2" height="11.2" fill="#000000"/>
<rect x="444.89" y="2148.31" width="11.2" height="11.2" fill="#000000"/>
<rect x="476.68" y="2156.65" width="11.2" height="11.2" fill="#000000"/>
<rect x="508.47" y="2165.41" width="11.2" height="11.2" fill="#000000"/>
<rect x="540.26" y="2175.95" width="11.2" height="11.2" fill="#000000"/>
<rect x="572.05" y="2187.34" width="11.2" height="11.2" fill="#000000"/>
<rect x="603.84" y="2200.45" width="11.2" height="11.2" fill="#000000"/>
<rect x="635.63" y="2214.69" width="11.2" height="11.2" fill="#000000"/>
<rect x="667.42" y="2230.08" width="11.2" height="11.2" fill="#000000"/>
<rect x="699.21" y="2241.05" width="11.2" height="11.2" fill="#000000"/>
<rect x="731" y="2252.01" width="11.2" height="11.2" fill="#000000"/>
<path d="M100.8 1907.63C111.4 1909.84 121.99 1912.52 132.59 1915.68C143.19 1918.84 153.78 1922.48 164.38 1926.64C174.98 1930.81 185.57 1935.49 196.17 1940.89C206.77 1946.29 217.36 1952.42 227.96 1958.91C238.56 1965.4 249.15 1972.24 259.75 1979.92C270.35 1987.6 280.94 1996.1 291.54 2004.49C302.14 2012.88 312.73 2021.14 323.33 2028.99C333.93 2036.84 344.52 2044.26 355.12 2051.14C365.72 2058.02 376.31 2064.34 386.91 2070.23C397.51 2076.12 408.1 2081.56 418.7 2086.68C429.3 2091.8 439.89 2096.58 450.49 2101.35C461.09 2106.13 471.68 2110.89 482.28 2115.81C492.88 2120.73 503.47 2125.81 514.07 2131.12C524.67 2136.44 535.26 2141.98 545.86 2148C556.46 2154.02 567.05 2160.51 577.65 2167.3C588.25 2174.09 598.84 2181.19 609.44 2188.53C620.04 2195.87 630.63 2203.47 641.23 2211.11C651.83 2218.74 662.42 2226.43 673.02 2233.04C683.62 2239.66 694.21 2245.21 704.81 2250.35C715.41 2255.49 726 2260.23 736.6 2265.23" stroke="#ff0000" stroke-width="3.3" fill="none" stroke-linejoin="round"/>
<circle cx="100.8" cy="1907.63" r="6.3" fill="#ff0000"/>
<circle cx="132.59" cy="1915.68" r="6.3" fill="#ff0000"/>
<circle cx="164.38" cy="1926.64" r="6.3" fill="#ff0000"/>
<circle cx="196.17" cy="1940.89" r="6.3" fill="#ff0000"/>
<circle cx="227.96" cy="1958.91" r="6.3" fill="#ff0000"/>
<circle cx="259.75" cy="1979.92" r="6.3" fill="#ff0000"/>
<circle cx="291.54" cy="2004.49" r="6.3" fill="#ff0000"/>
<circle cx="323.33" cy="2028.99" r="6.3" fill="#ff0000"/>
<circle cx="355.12" cy="2051.14" r="6.3" fill="#ff0000"/>
<circle cx="386.91" cy="2070.23" r="6.3" fill="#ff0000"/>
<circle cx="418.7" cy="2086.68" r="6.3" fill="#ff0000"/>
<circle cx="450.49" cy="2101.35" r="6.3" fill="#ff0000"/>
<circle cx="482.28" cy="2115.81" r="6.3" fill="#ff0000"/>
<circle cx="514.07" cy="2131.12" r="6.3" fill="#ff0000"/>
<circle cx="545.86" cy="2148" r="6.3" fill="#ff0000"/>
<circle cx="577.65" cy="2167.3" r="6.3" fill="#ff0000"/>
<circle cx="609.44" cy="2188.53" r="6.3" fill="#ff0000"/>
<circle cx="641.23" cy="2211.11" r="6.3" fill="#ff0000"/>
<circle cx="673.02" cy="2233.04" r="6.3" fill="#ff0000"/>
<circle cx="704.81" cy="2250.35" r="6.3" fill="#ff0000"/>
<circle cx="736.6" cy="2265.23" r="6.3" fill="#ff0000"/>
<path d="M100.8 1900.36C111.4 1901.79 121.99 1903.87 132.59 1906.27C143.19 1908.68 153.78 1911.42 164.38 1914.18C174.98 1916.94 185.57 1919.71 196.17 1922.94C206.77 1926.18 217.36 1929.88 227.96 1933.91C238.56 1937.94 249.15 1942.3 259.75 1946.87C270.35 1951.44 280.94 1956.22 291.54 1961.33C302.14 1966.44 312.73 1971.88 323.33 1977.5C333.93 1983.12 344.52 1988.91 355.12 1994.59C365.72 2000.27 376.31 2005.83 386.91 2011.47C397.51 2017.11 408.1 2022.84 418.7 2028.14C429.3 2033.43 439.89 2038.3 450.49 2042.81C461.09 2047.31 471.68 2051.46 482.28 2055.56C492.88 2059.65 503.47 2063.7 514.07 2067.59C524.67 2071.48 535.26 2075.22 545.86 2078.99C556.46 2082.76 567.05 2086.56 577.65 2090.6C588.25 2094.64 598.84 2098.92 609.44 2103.56C620.04 2108.2 630.63 2113.19 641.23 2118.87C651.83 2124.55 662.42 2130.92 673.02 2138.17C683.62 2145.43 694.21 2153.58 704.81 2162.89C715.41 2172.19 726 2182.65 736.6 2194.51" stroke="#0000ff" stroke-width="3.3" fill="none" stroke-linejoin="round"/>
<path d="M100.8 1892.36L108.8 1900.36L100.8 1908.36L92.8 1900.36Z" fill="#0000ff"/>
<path d="M132.59 1898.27L140.59 1906.27L132.59 1914.27L124.59 1906.27Z" fill="#0000ff"/>
<path d="M164.38 1906.18L172.38 1914.18L164.38 1922.18L156.38 1914.18Z" fill="#0000ff"/>
<path d="M196.17 1914.94L204.17 1922.94L196.17 1930.94L188.17 1922.94Z" fill="#0000ff"/>
<path d="M227.96 1925.91L235.96 1933.91L227.96 1941.91L219.96 1933.91Z" fill="#0000ff"/>
<path d="M259.75 1938.87L267.75 1946.87L259.75 1954.87L251.75 1946.87Z" fill="#0000ff"/>
<path d="M291.54 1953.33L299.54 1961.33L291.54 1969.33L283.54 1961.33Z" fill="#0000ff"/>
<path d="M323.33 1969.5L331.33 1977.5L323.33 1985.5L315.33 1977.5Z" fill="#0000ff"/>
<path d="M355.12 1986.59L363.12 1994.59L355.12 2002.59L347.12 1994.59Z" fill="#0000ff"/>
<path d="M386.91 2003.47L394.91 2011.47L386.91 2019.47L378.91 2011.47Z" fill="#0000ff"/>
<path d="M418.7 2020.14L426.7 2028.14L418.7 2036.14L410.7 2028.14Z" fill="#0000ff"/>
<path d="M450.49 2034.81L458.49 2042.81L450.49 2050.81L442.49 2042.81Z" fill="#0000ff"/>
<path d="M482.28 2047.56L490.28 2055.56L482.28 2063.56L474.28 2055.56Z" fill="#0000ff"/>
<path d="M514.07 2059.59L522.07 2067.59L514.07 2075.59L506.07 2067.59Z" fill="#0000ff"/>
<path d="M545.86 2070.99L553.86 2078.99L545.86 2086.99L537.86 2078.99Z" fill="#0000ff"/>
<path d="M577.65 2082.6L585.65 2090.6L577.65 2098.6L569.65 2090.6Z" fill="#0000ff"/>
<path d="M609.44 2095.56L617.44 2103.56L609.44 2111.56L601.44 2103.56Z" fill="#0000ff"/>
<path d="M641.23 2110.87L649.23 2118.87L641.23 2126.87L633.23 2118.87Z" fill="#0000ff"/>
<path d="M673.02 2130.17L681.02 2138.17L673.02 2146.17L665.02 2138.17Z" fill="#0000ff"/>
<path d="M704.81 2154.89L712.81 2162.89L704.81 2170.89L696.81 2162.89Z" fill="#0000ff"/>
<path d="M736.6 2186.51L744.6 2194.51L736.6 2202.51L728.6 2194.51Z" fill="#0000ff"/>
<path d="M100.8 1887.26C111.4 1888.29 121.99 1889.36 132.59 1890.53C143.19 1891.71 153.78 1892.99 164.38 1894.45C174.98 1895.91 185.57 1897.56 196.17 1899.29C206.77 1901.03 217.36 1902.85 227.96 1904.78C238.56 1906.71 249.15 1908.73 259.75 1910.9C270.35 1913.07 280.94 1915.39 291.54 1917.88C302.14 1920.38 312.73 1923.07 323.33 1926C333.93 1928.94 344.52 1932.13 355.12 1935.48C365.72 1938.82 376.31 1942.32 386.91 1945.73C397.51 1949.15 408.1 1952.48 418.7 1956.27C429.3 1960.06 439.89 1964.3 450.49 1968.31C461.09 1972.32 471.68 1976.1 482.28 1979.92C492.88 1983.74 503.47 1987.61 514.07 1991.31C524.67 1995.02 535.26 1998.57 545.86 2001.85C556.46 2005.14 567.05 2008.14 577.65 2011.04C588.25 2013.94 598.84 2016.73 609.44 2019.38C620.04 2022.02 630.63 2024.53 641.23 2026.85C651.83 2029.17 662.42 2031.31 673.02 2033.41C683.62 2035.51 694.21 2037.57 704.81 2039.53C715.41 2041.49 726 2043.34 736.6 2045.02" stroke="#ff00ff" stroke-width="3.3" fill="none" stroke-linejoin="round"/>
<path d="M93.3 1882.93L108.3 1882.93L100.8 1895.93Z" fill="#ff00ff"/>
<path d="M125.09 1886.2L140.09 1886.2L132.59 1899.2Z" fill="#ff00ff"/>
<path d="M156.88 1890.12L171.88 1890.12L164.38 1903.12Z" fill="#ff00ff"/>
<path d="M188.67 1894.96L203.67 1894.96L196.17 1907.96Z" fill="#ff00ff"/>
<path d="M220.46 1900.45L235.46 1900.45L227.96 1913.45Z" fill="#ff00ff"/>
<path d="M252.25 1906.57L267.25 1906.57L259.75 1919.57Z" fill="#ff00ff"/>
<path d="M284.04 1913.55L299.04 1913.55L291.54 1926.55Z" fill="#ff00ff"/>
<path d="M315.83 1921.67L330.83 1921.67L323.33 1934.67Z" fill="#ff00ff"/>
<path d="M347.62 1931.14L362.62 1931.14L355.12 1944.14Z" fill="#ff00ff"/>
<path d="M379.41 1941.4L394.41 1941.4L386.91 1954.4Z" fill="#ff00ff"/>
<path d="M411.2 1951.94L426.2 1951.94L418.7 1964.94Z" fill="#ff00ff"/>
<path d="M442.99 1963.98L457.99 1963.98L450.49 1976.98Z" fill="#ff00ff"/>
<path d="M474.78 1975.59L489.78 1975.59L482.28 1988.59Z" fill="#ff00ff"/>
<path d="M506.57 1986.98L521.57 1986.98L514.07 1999.98Z" fill="#ff00ff"/>
<path d="M538.36 1997.52L553.36 1997.52L545.86 2010.52Z" fill="#ff00ff"/>
<path d="M570.15 2006.71L585.15 2006.71L577.65 2019.71Z" fill="#ff00ff"/>
<path d="M601.94 2015.04L616.94 2015.04L609.44 2028.04Z" fill="#ff00ff"/>
<path d="M633.73 2022.52L648.73 2022.52L641.23 2035.52Z" fill="#ff00ff"/>
<path d="M665.52 2029.07L680.52 2029.07L673.02 2042.07Z" fill="#ff00ff"/>
<path d="M697.31 2035.2L712.31 2035.2L704.81 2048.2Z" fill="#ff00ff"/>
<path d="M729.1 2040.68L744.1 2040.68L736.6 2053.68Z" fill="#ff00ff"/>
</g>
<rect x="100.8" y="1828.5" width="637" height="512.8" fill="none" stroke="#000" stroke-width="2"/>
<path d="M164.5 2341.3v-10M228.2 2341.3v-10M291.9 2341.3v-10M355.6 2341.3v-10M419.3 2341.3v-10M483 2341.3v-10M546.7 2341.3v-10M610.4 2341.3v-10M674.1 2341.3v-10M100.8 1892.6h10M100.8 1956.7h10M100.8 2020.8h10M100.8 2084.9h10M100.8 2149h10M100.8 2213.1h10M100.8 2277.2h10" stroke="#000" stroke-width="2" fill="none"/>
<line x1="137.8" y1="2192.6" x2="199.2" y2="2192.6" stroke="#000000" stroke-width="3.3" stroke-linecap="round"/>
<rect x="162.9" y="2187" width="11.2" height="11.2" fill="#000000"/>
<line x1="137.8" y1="2225.5" x2="199.2" y2="2225.5" stroke="#ff0000" stroke-width="3.3" stroke-linecap="round"/>
<circle cx="168.5" cy="2225.5" r="6.3" fill="#ff0000"/>
<line x1="137.8" y1="2258.4" x2="199.2" y2="2258.4" stroke="#0000ff" stroke-width="3.3" stroke-linecap="round"/>
<path d="M168.5 2250.4L176.5 2258.4L168.5 2266.4L160.5 2258.4Z" fill="#0000ff"/>
<line x1="137.8" y1="2291.3" x2="199.2" y2="2291.3" stroke="#ff00ff" stroke-width="3.3" stroke-linecap="round"/>
<path d="M161 2286.97L176 2286.97L168.5 2299.97Z" fill="#ff00ff"/>
<g font-family="'Liberation Serif','Times New Roman',serif" font-size="27" fill="#000"><text x="89.8" y="1836.5" text-anchor="end">180</text><text x="89.8" y="1900.6" text-anchor="end">90</text><text x="89.8" y="1964.7" text-anchor="end">0</text><text x="89.8" y="2028.8" text-anchor="end">-90</text><text x="89.8" y="2092.9" text-anchor="end">-180</text><text x="89.8" y="2157" text-anchor="end">-270</text><text x="89.8" y="2221.1" text-anchor="end">-360</text><text x="89.8" y="2285.2" text-anchor="end">-450</text><text x="89.8" y="2349.3" text-anchor="end">-540</text><text x="100.8" y="2373.8" text-anchor="middle">7.0</text><text x="164.5" y="2373.8" text-anchor="middle">7.2</text><text x="228.2" y="2373.8" text-anchor="middle">7.4</text><text x="291.9" y="2373.8" text-anchor="middle">7.6</text><text x="355.6" y="2373.8" text-anchor="middle">7.8</text><text x="419.3" y="2373.8" text-anchor="middle">8.0</text><text x="483" y="2373.8" text-anchor="middle">8.2</text><text x="546.7" y="2373.8" text-anchor="middle">8.4</text><text x="610.4" y="2373.8" text-anchor="middle">8.6</text><text x="674.1" y="2373.8" text-anchor="middle">8.8</text><text x="737.8" y="2373.8" text-anchor="middle">9.0</text><text x="419.5" y="2410" text-anchor="middle">Frequency(GHz)</text><text transform="translate(33,2070) rotate(-90)" text-anchor="middle">Phase(degree)</text><text x="205.2" y="2201.6">00</text><text x="205.2" y="2234.5">01</text><text x="205.2" y="2267.4">10</text><text x="205.2" y="2300.3">11</text><text x="547.7" y="2285.8"><tspan font-style="italic">θ</tspan>=40°</text></g>
<clipPath id="c7"><rect x="848.5" y="1831.9" width="637" height="512.9"/></clipPath>
<line x1="1167" y1="1831.9" x2="1167" y2="2344.8" stroke="#444" stroke-width="1.4" stroke-dasharray="3.8 3.2" fill="none"/>
<g clip-path="url(#c7)">
<path d="M848.5 2098.25C859.1 2101.6 869.69 2104.46 880.29 2107.01C890.89 2109.57 901.48 2111.83 912.08 2114C922.68 2116.16 933.27 2118.22 943.87 2120.12C954.47 2122.02 965.06 2123.77 975.66 2125.61C986.26 2127.44 996.85 2129.38 1007.45 2131.09C1018.05 2132.81 1028.64 2134.3 1039.24 2135.94C1049.84 2137.57 1060.43 2139.34 1071.03 2140.99C1081.63 2142.64 1092.22 2144.17 1102.82 2145.98C1113.42 2147.79 1124.01 2149.88 1134.61 2151.89C1145.21 2153.9 1155.8 2155.83 1166.4 2157.81C1177 2159.78 1187.59 2161.79 1198.19 2164C1208.79 2166.21 1219.38 2168.61 1229.98 2170.98C1240.58 2173.36 1251.17 2175.71 1261.77 2178.25C1272.37 2180.79 1282.96 2183.53 1293.56 2186.37C1304.16 2189.21 1314.75 2192.14 1325.35 2195.35C1335.95 2198.55 1346.54 2202.04 1357.14 2205.6C1367.74 2209.17 1378.33 2212.82 1388.93 2216.58C1399.53 2220.33 1410.12 2224.19 1420.72 2227.55C1431.32 2230.9 1441.91 2233.76 1452.51 2236.95C1463.11 2240.14 1473.7 2243.66 1484.3 2248.35" stroke="#000000" stroke-width="3.3" fill="none" stroke-linejoin="round"/>
<rect x="842.9" y="2092.65" width="11.2" height="11.2" fill="#000000"/>
<rect x="874.69" y="2101.41" width="11.2" height="11.2" fill="#000000"/>
<rect x="906.48" y="2108.4" width="11.2" height="11.2" fill="#000000"/>
<rect x="938.27" y="2114.52" width="11.2" height="11.2" fill="#000000"/>
<rect x="970.06" y="2120.01" width="11.2" height="11.2" fill="#000000"/>
<rect x="1001.85" y="2125.49" width="11.2" height="11.2" fill="#000000"/>
<rect x="1033.64" y="2130.34" width="11.2" height="11.2" fill="#000000"/>
<rect x="1065.43" y="2135.39" width="11.2" height="11.2" fill="#000000"/>
<rect x="1097.22" y="2140.38" width="11.2" height="11.2" fill="#000000"/>
<rect x="1129.01" y="2146.29" width="11.2" height="11.2" fill="#000000"/>
<rect x="1160.8" y="2152.21" width="11.2" height="11.2" fill="#000000"/>
<rect x="1192.59" y="2158.4" width="11.2" height="11.2" fill="#000000"/>
<rect x="1224.38" y="2165.38" width="11.2" height="11.2" fill="#000000"/>
<rect x="1256.17" y="2172.65" width="11.2" height="11.2" fill="#000000"/>
<rect x="1287.96" y="2180.77" width="11.2" height="11.2" fill="#000000"/>
<rect x="1319.75" y="2189.75" width="11.2" height="11.2" fill="#000000"/>
<rect x="1351.54" y="2200" width="11.2" height="11.2" fill="#000000"/>
<rect x="1383.33" y="2210.98" width="11.2" height="11.2" fill="#000000"/>
<rect x="1415.12" y="2221.95" width="11.2" height="11.2" fill="#000000"/>
<rect x="1446.91" y="2231.35" width="11.2" height="11.2" fill="#000000"/>
<rect x="1478.7" y="2242.75" width="11.2" height="11.2" fill="#000000"/>
<path d="M848.5 1919.59C859.1 1921.6 869.69 1923.74 880.29 1926.15C890.89 1928.55 901.48 1931.21 912.08 1934.27C922.68 1937.32 933.27 1940.77 943.87 1944.81C954.47 1948.85 965.06 1953.49 975.66 1958.34C986.26 1963.2 996.85 1968.28 1007.45 1974.37C1018.05 1980.46 1028.64 1987.56 1039.24 1995.17C1049.84 2002.78 1060.43 2010.9 1071.03 2019.32C1081.63 2027.75 1092.22 2036.49 1102.82 2044.97C1113.42 2053.45 1124.01 2061.67 1134.61 2069.26C1145.21 2076.85 1155.8 2083.8 1166.4 2090.56C1177 2097.31 1187.59 2103.86 1198.19 2109.86C1208.79 2115.86 1219.38 2121.31 1229.98 2126.68C1240.58 2132.04 1251.17 2137.32 1261.77 2142.7C1272.37 2148.09 1282.96 2153.58 1293.56 2158.94C1304.16 2164.31 1314.75 2169.56 1325.35 2174.9C1335.95 2180.24 1346.54 2185.67 1357.14 2191.36C1367.74 2197.05 1378.33 2203 1388.93 2208.88C1399.53 2214.76 1410.12 2220.56 1420.72 2225.98C1431.32 2231.4 1441.91 2236.44 1452.51 2241.37C1463.11 2246.29 1473.7 2251.09 1484.3 2256.04" stroke="#ff0000" stroke-width="3.3" fill="none" stroke-linejoin="round"/>
<circle cx="848.5" cy="1919.59" r="6.3" fill="#ff0000"/>
<circle cx="880.29" cy="1926.15" r="6.3" fill="#ff0000"/>
<circle cx="912.08" cy="1934.27" r="6.3" fill="#ff0000"/>
<circle cx="943.87" cy="1944.81" r="6.3" fill="#ff0000"/>
<circle cx="975.66" cy="1958.34" r="6.3" fill="#ff0000"/>
<circle cx="1007.45" cy="1974.37" r="6.3" fill="#ff0000"/>
<circle cx="1039.24" cy="1995.17" r="6.3" fill="#ff0000"/>
<circle cx="1071.03" cy="2019.32" r="6.3" fill="#ff0000"/>
<circle cx="1102.82" cy="2044.97" r="6.3" fill="#ff0000"/>
<circle cx="1134.61" cy="2069.26" r="6.3" fill="#ff0000"/>
<circle cx="1166.4" cy="2090.56" r="6.3" fill="#ff0000"/>
<circle cx="1198.19" cy="2109.86" r="6.3" fill="#ff0000"/>
<circle cx="1229.98" cy="2126.68" r="6.3" fill="#ff0000"/>
<circle cx="1261.77" cy="2142.7" r="6.3" fill="#ff0000"/>
<circle cx="1293.56" cy="2158.94" r="6.3" fill="#ff0000"/>
<circle cx="1325.35" cy="2174.9" r="6.3" fill="#ff0000"/>
<circle cx="1357.14" cy="2191.36" r="6.3" fill="#ff0000"/>
<circle cx="1388.93" cy="2208.88" r="6.3" fill="#ff0000"/>
<circle cx="1420.72" cy="2225.98" r="6.3" fill="#ff0000"/>
<circle cx="1452.51" cy="2241.37" r="6.3" fill="#ff0000"/>
<circle cx="1484.3" cy="2256.04" r="6.3" fill="#ff0000"/>
<path d="M848.5 1912.97C859.1 1914.45 869.69 1916.17 880.29 1918.02C890.89 1919.88 901.48 1921.88 912.08 1923.94C922.68 1925.99 933.27 1928.1 943.87 1930.56C954.47 1933.02 965.06 1935.83 975.66 1938.9C986.26 1941.96 996.85 1945.28 1007.45 1948.73C1018.05 1952.17 1028.64 1955.74 1039.24 1959.7C1049.84 1963.65 1060.43 1967.99 1071.03 1972.59C1081.63 1977.19 1092.22 1982.05 1102.82 1987.12C1113.42 1992.2 1124.01 1997.48 1134.61 2002.87C1145.21 2008.25 1155.8 2013.74 1166.4 2019.32C1177 2024.91 1187.59 2030.6 1198.19 2036.21C1208.79 2041.81 1219.38 2047.34 1229.98 2052.66C1240.58 2057.98 1251.17 2063.09 1261.77 2068.19C1272.37 2073.29 1282.96 2078.39 1293.56 2083.51C1304.16 2088.62 1314.75 2093.75 1325.35 2098.89C1335.95 2104.04 1346.54 2109.2 1357.14 2114.64C1367.74 2120.07 1378.33 2125.77 1388.93 2131.73C1399.53 2137.69 1410.12 2143.92 1420.72 2150.4C1431.32 2156.88 1441.91 2163.62 1452.51 2170.98C1463.11 2178.35 1473.7 2186.35 1484.3 2195.35" stroke="#0000ff" stroke-width="3.3" fill="none" stroke-linejoin="round"/>
<path d="M848.5 1904.97L856.5 1912.97L848.5 1920.97L840.5 1912.97Z" fill="#0000ff"/>
<path d="M880.29 1910.02L888.29 1918.02L880.29 1926.02L872.29 1918.02Z" fill="#0000ff"/>
<path d="M912.08 1915.94L920.08 1923.94L912.08 1931.94L904.08 1923.94Z" fill="#0000ff"/>
<path d="M943.87 1922.56L951.87 1930.56L943.87 1938.56L935.87 1930.56Z" fill="#0000ff"/>
<path d="M975.66 1930.9L983.66 1938.9L975.66 1946.9L967.66 1938.9Z" fill="#0000ff"/>
<path d="M1007.45 1940.73L1015.45 1948.73L1007.45 1956.73L999.45 1948.73Z" fill="#0000ff"/>
<path d="M1039.24 1951.7L1047.24 1959.7L1039.24 1967.7L1031.24 1959.7Z" fill="#0000ff"/>
<path d="M1071.03 1964.59L1079.03 1972.59L1071.03 1980.59L1063.03 1972.59Z" fill="#0000ff"/>
<path d="M1102.82 1979.12L1110.82 1987.12L1102.82 1995.12L1094.82 1987.12Z" fill="#0000ff"/>
<path d="M1134.61 1994.87L1142.61 2002.87L1134.61 2010.87L1126.61 2002.87Z" fill="#0000ff"/>
<path d="M1166.4 2011.32L1174.4 2019.32L1166.4 2027.32L1158.4 2019.32Z" fill="#0000ff"/>
<path d="M1198.19 2028.21L1206.19 2036.21L1198.19 2044.21L1190.19 2036.21Z" fill="#0000ff"/>
<path d="M1229.98 2044.66L1237.98 2052.66L1229.98 2060.66L1221.98 2052.66Z" fill="#0000ff"/>
<path d="M1261.77 2060.19L1269.77 2068.19L1261.77 2076.19L1253.77 2068.19Z" fill="#0000ff"/>
<path d="M1293.56 2075.51L1301.56 2083.51L1293.56 2091.51L1285.56 2083.51Z" fill="#0000ff"/>
<path d="M1325.35 2090.89L1333.35 2098.89L1325.35 2106.89L1317.35 2098.89Z" fill="#0000ff"/>
<path d="M1357.14 2106.64L1365.14 2114.64L1357.14 2122.64L1349.14 2114.64Z" fill="#0000ff"/>
<path d="M1388.93 2123.73L1396.93 2131.73L1388.93 2139.73L1380.93 2131.73Z" fill="#0000ff"/>
<path d="M1420.72 2142.4L1428.72 2150.4L1420.72 2158.4L1412.72 2150.4Z" fill="#0000ff"/>
<path d="M1452.51 2162.98L1460.51 2170.98L1452.51 2178.98L1444.51 2170.98Z" fill="#0000ff"/>
<path d="M1484.3 2187.35L1492.3 2195.35L1484.3 2203.35L1476.3 2195.35Z" fill="#0000ff"/>
<path d="M848.5 1899.86C859.1 1901.04 869.69 1902.09 880.29 1903.14C890.89 1904.18 901.48 1905.23 912.08 1906.41C922.68 1907.6 933.27 1908.92 943.87 1910.4C954.47 1911.89 965.06 1913.54 975.66 1915.18C986.26 1916.81 996.85 1918.42 1007.45 1920.23C1018.05 1922.04 1028.64 1924.05 1039.24 1926.15C1049.84 1928.24 1060.43 1930.41 1071.03 1932.7C1081.63 1934.98 1092.22 1937.38 1102.82 1939.75C1113.42 1942.13 1124.01 1944.48 1134.61 1946.95C1145.21 1949.41 1155.8 1951.97 1166.4 1954.64C1177 1957.31 1187.59 1960.07 1198.19 1962.97C1208.79 1965.88 1219.38 1968.92 1229.98 1972.16C1240.58 1975.41 1251.17 1978.87 1261.77 1982.07C1272.37 1985.26 1282.96 1988.21 1293.56 1991.26C1304.16 1994.3 1314.75 1997.46 1325.35 2000.66C1335.95 2003.86 1346.54 2007.1 1357.14 2010.13C1367.74 2013.16 1378.33 2015.98 1388.93 2018.89C1399.53 2021.81 1410.12 2024.81 1420.72 2027.44C1431.32 2030.08 1441.91 2032.35 1452.51 2034.64C1463.11 2036.92 1473.7 2039.22 1484.3 2041.9" stroke="#ff00ff" stroke-width="3.3" fill="none" stroke-linejoin="round"/>
<path d="M841 1895.53L856 1895.53L848.5 1908.53Z" fill="#ff00ff"/>
<path d="M872.79 1898.8L887.79 1898.8L880.29 1911.8Z" fill="#ff00ff"/>
<path d="M904.58 1902.08L919.58 1902.08L912.08 1915.08Z" fill="#ff00ff"/>
<path d="M936.37 1906.07L951.37 1906.07L943.87 1919.07Z" fill="#ff00ff"/>
<path d="M968.16 1910.84L983.16 1910.84L975.66 1923.84Z" fill="#ff00ff"/>
<path d="M999.95 1915.9L1014.95 1915.9L1007.45 1928.9Z" fill="#ff00ff"/>
<path d="M1031.74 1921.81L1046.74 1921.81L1039.24 1934.81Z" fill="#ff00ff"/>
<path d="M1063.53 1928.37L1078.53 1928.37L1071.03 1941.37Z" fill="#ff00ff"/>
<path d="M1095.32 1935.42L1110.32 1935.42L1102.82 1948.42Z" fill="#ff00ff"/>
<path d="M1127.11 1942.61L1142.11 1942.61L1134.61 1955.61Z" fill="#ff00ff"/>
<path d="M1158.9 1950.31L1173.9 1950.31L1166.4 1963.31Z" fill="#ff00ff"/>
<path d="M1190.69 1958.64L1205.69 1958.64L1198.19 1971.64Z" fill="#ff00ff"/>
<path d="M1222.48 1967.83L1237.48 1967.83L1229.98 1980.83Z" fill="#ff00ff"/>
<path d="M1254.27 1977.73L1269.27 1977.73L1261.77 1990.73Z" fill="#ff00ff"/>
<path d="M1286.06 1986.92L1301.06 1986.92L1293.56 1999.92Z" fill="#ff00ff"/>
<path d="M1317.85 1996.33L1332.85 1996.33L1325.35 2009.33Z" fill="#ff00ff"/>
<path d="M1349.64 2005.8L1364.64 2005.8L1357.14 2018.8Z" fill="#ff00ff"/>
<path d="M1381.43 2014.56L1396.43 2014.56L1388.93 2027.56Z" fill="#ff00ff"/>
<path d="M1413.22 2023.11L1428.22 2023.11L1420.72 2036.11Z" fill="#ff00ff"/>
<path d="M1445.01 2030.3L1460.01 2030.3L1452.51 2043.3Z" fill="#ff00ff"/>
<path d="M1476.8 2037.57L1491.8 2037.57L1484.3 2050.57Z" fill="#ff00ff"/>
</g>
<rect x="848.5" y="1831.9" width="637" height="512.9" fill="none" stroke="#000" stroke-width="2"/>
<path d="M912.2 2344.8v-10M975.9 2344.8v-10M1039.6 2344.8v-10M1103.3 2344.8v-10M1167 2344.8v-10M1230.7 2344.8v-10M1294.4 2344.8v-10M1358.1 2344.8v-10M1421.8 2344.8v-10M848.5 1896.01h10M848.5 1960.12h10M848.5 2024.24h10M848.5 2088.35h10M848.5 2152.46h10M848.5 2216.58h10M848.5 2280.69h10" stroke="#000" stroke-width="2" fill="none"/>
<line x1="885.8" y1="2196.6" x2="947.2" y2="2196.6" stroke="#000000" stroke-width="3.3" stroke-linecap="round"/>
<rect x="910.9" y="2191" width="11.2" height="11.2" fill="#000000"/>
<line x1="885.8" y1="2229.5" x2="947.2" y2="2229.5" stroke="#ff0000" stroke-width="3.3" stroke-linecap="round"/>
<circle cx="916.5" cy="2229.5" r="6.3" fill="#ff0000"/>
<line x1="885.8" y1="2262.4" x2="947.2" y2="2262.4" stroke="#0000ff" stroke-width="3.3" stroke-linecap="round"/>
<path d="M916.5 2254.4L924.5 2262.4L916.5 2270.4L908.5 2262.4Z" fill="#0000ff"/>
<line x1="885.8" y1="2295.3" x2="947.2" y2="2295.3" stroke="#ff00ff" stroke-width="3.3" stroke-linecap="round"/>
<path d="M909 2290.97L924 2290.97L916.5 2303.97Z" fill="#ff00ff"/>
<g font-family="'Liberation Serif','Times New Roman',serif" font-size="27" fill="#000"><text x="837.5" y="1839.9" text-anchor="end">180</text><text x="837.5" y="1904.01" text-anchor="end">90</text><text x="837.5" y="1968.12" text-anchor="end">0</text><text x="837.5" y="2032.24" text-anchor="end">-90</text><text x="837.5" y="2096.35" text-anchor="end">-180</text><text x="837.5" y="2160.46" text-anchor="end">-270</text><text x="837.5" y="2224.58" text-anchor="end">-360</text><text x="837.5" y="2288.69" text-anchor="end">-450</text><text x="837.5" y="2352.8" text-anchor="end">-540</text><text x="848.5" y="2377.3" text-anchor="middle">7.0</text><text x="912.2" y="2377.3" text-anchor="middle">7.2</text><text x="975.9" y="2377.3" text-anchor="middle">7.4</text><text x="1039.6" y="2377.3" text-anchor="middle">7.6</text><text x="1103.3" y="2377.3" text-anchor="middle">7.8</text><text x="1167" y="2377.3" text-anchor="middle">8.0</text><text x="1230.7" y="2377.3" text-anchor="middle">8.2</text><text x="1294.4" y="2377.3" text-anchor="middle">8.4</text><text x="1358.1" y="2377.3" text-anchor="middle">8.6</text><text x="1421.8" y="2377.3" text-anchor="middle">8.8</text><text x="1485.5" y="2377.3" text-anchor="middle">9.0</text><text x="1168" y="2412.5" text-anchor="middle">Frequency(GHz)</text><text transform="translate(784,2073.5) rotate(-90)" text-anchor="middle">Phase(degree)</text><text x="953.2" y="2205.6">00</text><text x="953.2" y="2238.5">01</text><text x="953.2" y="2271.4">10</text><text x="953.2" y="2304.3">11</text><text x="1296" y="2289.8"><tspan font-style="italic">θ</tspan>=60°</text></g>
</svg></body></html>
